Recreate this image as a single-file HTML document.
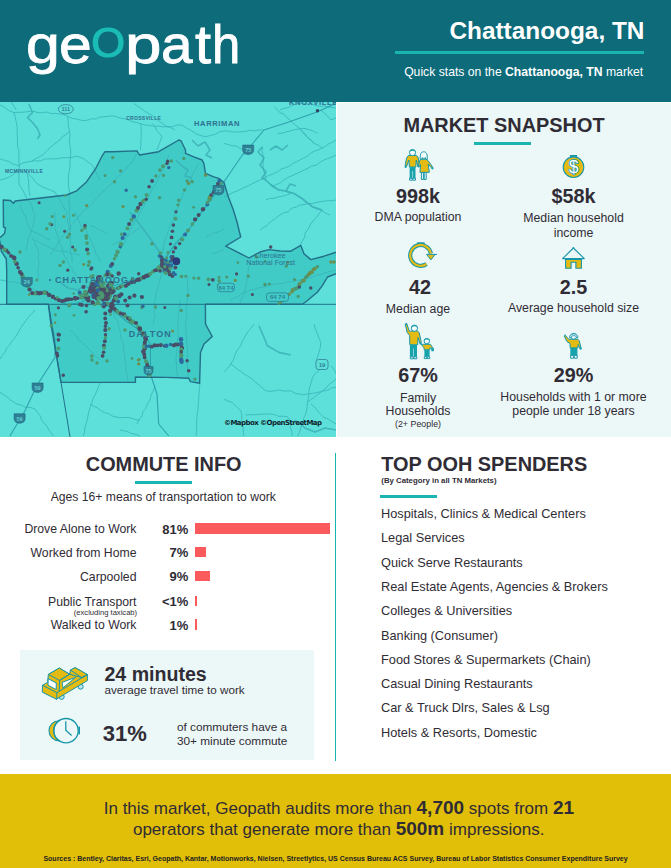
<!DOCTYPE html>
<html><head><meta charset="utf-8">
<style>
*{margin:0;padding:0;box-sizing:border-box}
html,body{width:671px;height:868px;overflow:hidden;background:#fff}
body{position:relative;font-family:"Liberation Sans",Arial,sans-serif;color:#302c35}
.a{position:absolute;white-space:nowrap;line-height:1}
#hdr{position:absolute;left:0;top:0;width:671px;height:102px;background:#0d6b7a}
#map{position:absolute;left:0;top:102px;width:336px;height:335px;overflow:hidden}
#snap{position:absolute;left:337px;top:103px;width:334px;height:334px;background:#ecf7f7}
#box{position:absolute;left:20px;top:650px;width:294px;height:110px;background:#ecf7f7}
#foot{position:absolute;left:0;top:774px;width:671px;height:94px;background:#e1be07}
.ul{position:absolute;height:3px;background:#1ab5b0}
.logo span{position:absolute;top:17.8px;font-size:53px;line-height:1;color:#fff;-webkit-text-stroke:0.8px #fff;transform-origin:0 0}
.logo span.o{font-family:"DejaVu Sans",sans-serif;font-weight:200;font-size:54px;color:#1bbcb5;-webkit-text-stroke:2.2px #1bbcb5}
.bar{position:absolute;left:194.5px;height:10.5px;background:#fb5a5d}
svg{position:absolute;overflow:visible}
</style></head><body>
<div id="hdr"><div class="a logo" style="left:0;top:0;width:250px;height:101px"><span style="left:25.7px;transform:scaleX(1.148)">g</span><span style="left:58.6px;transform:scaleX(1.11)">e</span><span class="o" style="left:88.9px;top:14.2px;transform:scale(1.16,0.93)">o</span><span style="left:125px;transform:scaleX(1.24)">p</span><span style="left:160.5px;transform:scaleX(1.07)">a</span><span style="left:194.6px;transform:scaleX(1.09)">t</span><span style="left:212.1px;transform:scaleX(0.96)">h</span></div><div class="a" style="top:18.6px;font-size:24.4px;font-weight:bold;color:#fff;right:26.5px;">Chattanooga, TN</div>
<div class="ul" style="left:395px;top:51px;width:249px"></div><div class="a" style="top:66.4px;font-size:12.2px;color:#fff;right:27.8px;">Quick stats on the <b>Chattanooga, TN</b> market</div>
</div>
<div id="map"><svg width="336" height="335" viewBox="0 102 336 335" style="left:0;top:0">
<rect x="0" y="100" width="336" height="340" fill="#5ddfda"/>
<polygon points="3.3,200.0 10.5,200.5 13.4,203.2 15.2,201.0 66.7,195.0 76.7,190.8 86.7,181.7 95.8,168.3 101.7,156.7 105.0,151.7 112.0,151.7 137.0,150.9 139.5,155.0 158.7,151.7 178.8,140.0 181.0,140.8 185.5,150.0 185.5,153.4 193.8,156.8 202.1,160.0 203.8,163.4 205.5,173.4 213.8,176.8 218.8,178.4 224.0,182.5 228.0,196.0 233.0,209.0 237.0,222.0 240.7,237.0 225.7,246.2 249.0,258.0 260.0,252.0 269.0,249.6 280.0,251.0 290.8,251.2 300.8,245.4 304.0,253.7 310.8,259.6 324.0,256.2 337.0,252.0 337.0,273.5 327.5,277.0 322.5,285.4 317.5,292.0 307.5,300.5 302.5,304.3 205.4,304.3 205.5,324.0 212.2,336.5 204.0,344.0 200.5,352.4 199.6,383.3 190.5,381.6 188.8,378.3 167.0,377.4 135.4,377.0 135.4,382.4 61.0,382.4 50.9,324.0 48.4,304.3 6.7,304.3 6.7,270.0 6.3,259.0 1.2,251.0 0.5,245.0 -1.0,238.0 1.2,236.7 4.6,233.2 5.5,228.0 3.5,227.0" fill="#40cbc7"/>
<g fill="none" stroke="#38b4b7" stroke-width="0.8" stroke-linejoin="round">
<polyline points="277.4,133.4 281.7,133.3 285.8,132.0 290.0,131.0 294.6,129.8 299.3,128.9 304.0,128.4 308.7,129.5 313.3,131.0 317.5,133.4"/>
<polyline points="300.8,130.0 303.9,133.6 307.0,137.1 310.9,139.9 314.0,143.4 318.3,145.2 322.0,148.0"/>
<polyline points="224.0,143.4 228.0,144.5 231.9,145.7 236.0,146.0 240.2,148.7 245.0,150.0"/>
<polyline points="265.7,200.0 269.7,198.5 274.0,198.4 278.0,197.0 282.4,196.3 286.6,195.0 290.8,193.5"/>
<polyline points="320.8,110.0 324.3,113.1 327.8,116.3 330.8,120.0 336.0,118.0"/>
<polyline points="55.0,212.0 54.6,216.2 55.3,220.3 55.2,224.5 55.0,228.7 56.4,232.9 58.0,237.0 58.6,241.4 61.0,245.2 62.4,249.4 63.4,253.7 65.5,257.3 67.5,260.9 69.3,264.7 71.7,268.2 73.6,271.9 76.0,275.3 78.4,278.7"/>
<polyline points="75.0,212.0 76.7,216.2 78.4,220.3 80.5,224.4 81.8,228.7"/>
<polyline points="31.7,237.0 34.2,241.3 36.1,246.0 38.4,250.4 38.7,254.4 38.1,258.5 39.0,262.5 38.5,266.6 37.7,270.6 38.7,274.7 38.4,278.7"/>
<polyline points="90.0,225.4 94.5,227.0 98.4,229.5 102.8,231.3 106.8,233.7"/>
<polyline points="205.5,237.0 209.3,235.6 212.6,232.9 216.8,232.6 220.5,230.7 224.0,228.7"/>
<polyline points="212.0,253.7 216.1,252.9 220.0,251.1 224.0,250.0"/>
<polyline points="112.0,245.4 116.2,242.6 120.8,240.7 125.0,238.0 128.8,235.5 132.4,232.9 136.1,230.3 140.0,228.0"/>
<polyline points="254.0,324.0 250.6,328.6 247.0,333.0 244.7,337.1 242.3,341.2 240.7,345.7 237.2,350.0 235.0,355.0 233.4,359.8 230.7,364.0 227.6,368.4 224.0,372.4"/>
<polyline points="230.7,364.0 234.1,366.4 237.3,369.1 240.8,371.3 244.0,374.0 248.2,376.4 252.2,379.1 255.7,382.4 259.2,385.0 262.4,388.0 265.7,390.8 270.2,391.3 274.6,390.9 279.0,390.0 284.9,391.1 290.8,390.8 294.6,393.2 299.0,394.0 303.2,394.8 307.5,394.0 312.5,393.4 317.5,392.4 324.0,390.8 328.1,390.1 331.8,387.9 336.0,387.4"/>
<polyline points="314.0,324.0 315.5,329.1 317.5,334.0 319.0,338.3 320.8,342.4 320.3,347.5 319.0,352.4 316.7,359.0 317.7,364.9 319.0,370.7 315.2,373.5 312.5,377.4 311.4,381.9 309.9,386.3 309.0,390.8 308.6,396.7 307.5,402.5 306.9,408.3 305.8,414.0 303.6,418.3 303.2,423.3 300.8,427.5 299.7,432.0 297.5,436.0"/>
<polyline points="224.0,399.0 228.0,401.0 232.3,402.5 236.6,406.6 240.7,410.8 241.9,415.1 241.6,419.6 242.4,424.0 243.1,428.0 243.3,432.0 244.0,436.0"/>
<polyline points="245.7,415.0 249.7,414.7 253.7,414.7 257.7,414.5 261.7,414.1 265.7,414.0 270.1,414.1 274.4,414.5 278.6,416.3 283.1,416.2 287.4,416.7 289.7,420.1 290.8,424.0 290.6,428.1 292.0,432.0 292.0,436.0"/>
<polyline points="307.5,402.5 310.5,399.6 314.2,397.5 317.3,394.7 320.8,392.4 323.8,389.7 326.9,387.1 329.6,384.0 333.0,381.7 336.0,379.0"/>
<polyline points="310.8,404.0 314.5,407.0 317.4,410.8 320.6,414.2 324.0,417.5 328.3,419.1 332.1,421.7 336.0,424.0"/>
<polyline points="330.8,365.7 334.1,369.4 336.0,374.0"/>
<polyline points="0.0,105.0 4.6,107.4 8.9,110.5 13.8,112.5 17.9,112.3 21.9,112.3 26.0,111.9 30.0,111.3 34.1,111.4 38.2,112.7 42.3,112.8 46.5,112.0 50.5,113.5 54.7,113.4 58.8,113.8 63.4,114.5 67.6,116.3 71.6,118.2 75.9,118.9 80.1,120.0 84.0,120.6 88.0,120.1 91.9,118.7 96.1,119.0 99.9,117.1 103.9,116.8 108.0,116.4 112.0,115.8 116.3,116.6 120.3,118.2 124.7,118.8 128.8,120.1 132.8,121.9 137.1,122.6 141.2,124.1 145.4,125.0 149.7,125.5 154.0,126.3 158.4,126.1 162.6,126.8 167.0,126.7 172.1,126.7 176.9,125.1 182.0,125.0 186.3,128.1 191.1,130.4 195.5,133.4 200.4,135.5 205.5,136.7 210.2,135.5 214.9,134.4 219.2,132.0 224.0,131.0 228.2,131.0 232.3,131.8 236.5,132.1 240.7,131.7 245.4,131.6 250.0,130.2 254.7,130.9 259.3,129.9 264.0,130.0"/>
<polyline points="67.6,116.3 68.2,121.3 68.4,126.4 69.5,131.3 70.1,136.0 69.3,140.8 69.9,145.5 70.7,150.2 70.7,155.0 70.0,162.6 70.0,166.9 69.4,171.2 68.3,175.4 68.5,179.7 68.2,184.0 68.9,188.0 69.5,192.0 69.3,196.0 69.0,200.0 69.0,204.0 69.6,208.0 69.4,212.0 70.0,216.0 69.4,220.0 70.1,224.0 70.6,228.0 69.8,232.0 70.3,236.0 70.5,240.0 70.6,244.4 70.6,248.8 70.6,253.3 72.2,257.6 72.0,262.0"/>
<polyline points="13.8,112.5 15.3,117.4 16.3,122.5 17.2,127.5 17.1,132.5 17.5,137.5 17.4,142.0 17.5,146.5 19.1,151.0 18.9,155.5 18.8,160.0 19.4,166.3 18.8,170.7 18.8,175.1 19.1,179.6 18.8,184.0 20.9,187.6 23.4,191.1 25.0,195.0 26.8,198.6 29.6,201.6 31.7,205.0 32.7,210.2 35.0,215.0 33.9,219.0 33.7,223.2 32.3,227.1 31.3,231.1 30.0,235.0 28.1,239.8 27.2,245.0 26.0,250.0"/>
<polyline points="18.8,165.0 22.8,163.1 27.0,162.0 31.3,161.3 35.0,159.0 38.8,157.1 42.6,155.0 46.4,151.4 50.0,147.6 53.2,144.9 56.5,142.4 60.0,140.0 62.6,136.5 66.4,134.3 69.5,131.3"/>
<polyline points="0.0,158.8 4.3,160.2 8.6,161.4 12.5,163.8 20.0,166.3"/>
<polyline points="31.3,161.3 35.8,160.8 40.4,161.1 44.7,159.0 49.3,158.9 53.8,158.8 57.9,158.7 61.9,157.8 65.9,157.6 70.0,157.6 77.6,156.3 84.0,158.8 87.1,161.4 90.4,163.8 93.3,166.7 95.4,171.2 97.7,175.6 100.0,180.0"/>
<polyline points="0.0,180.0 4.4,179.0 8.6,177.4 12.5,175.0 15.8,171.8 20.0,170.0"/>
<polyline points="25.0,171.3 28.7,174.5 32.5,177.6 34.6,181.1 37.5,184.0 41.7,186.4 46.0,188.4 50.6,190.2 55.0,192.0 57.2,196.0 59.9,199.8 62.3,203.6 64.1,207.9 66.7,211.7 67.1,216.4 67.6,221.0 68.9,225.5 70.0,230.0"/>
<polyline points="26.9,172.6 28.2,178.2 28.8,184.0 28.8,188.0 29.2,192.0 30.0,196.0"/>
<polyline points="10.0,100.0 13.1,105.0 16.3,110.0"/>
<polyline points="133.7,103.3 137.2,105.9 140.9,108.1 144.3,110.9 147.9,113.2 151.8,115.2 155.0,118.1 158.5,120.7 162.0,123.3 166.0,126.2 170.7,127.7 175.0,130.0"/>
<polyline points="141.0,123.4 141.0,127.8 141.2,132.3 141.2,136.7 140.8,141.1 140.8,145.6 140.4,150.0"/>
<polyline points="152.0,123.3 155.0,126.3 156.5,130.4 159.5,133.3 162.0,136.7 160.4,141.2 158.6,145.5 157.0,150.0"/>
<polyline points="137.0,153.4 134.8,156.8 132.7,160.4 130.4,163.8 127.6,166.8 125.0,170.0 121.9,173.5 118.2,176.4 115.2,180.0 112.0,183.4 108.3,186.4 105.4,190.2 101.3,192.8 98.3,196.6 95.0,200.0 92.3,203.3 89.4,206.4 85.9,208.9 82.6,211.6 80.0,215.0 77.6,218.2 74.7,221.0 72.6,224.4 69.5,227.1 68.1,231.1 65.0,233.8 62.3,236.7 60.0,240.0 57.7,243.9 55.4,247.7 53.0,251.6 50.0,255.0"/>
<polyline points="168.8,155.0 167.4,159.1 165.6,163.2 163.2,166.9 162.0,171.1 160.0,175.0 158.0,179.0 156.3,183.1 153.7,186.8 151.3,190.6 149.6,194.8 148.1,199.0 145.6,202.8 143.7,206.8 141.1,210.5 139.0,214.5 137.5,218.8 134.2,222.0 132.0,226.0 130.0,230.0 128.2,234.1 126.6,238.3 124.5,242.2 122.0,246.0 120.0,250.0"/>
<polyline points="198.8,163.4 196.6,167.1 194.7,170.9 192.2,174.5 191.4,178.8 189.2,182.5 186.8,186.1 185.0,190.0 183.3,193.6 181.9,197.4 179.9,200.9 178.8,204.8 177.4,208.5 175.4,212.0 174.0,216.0 173.0,220.2 170.7,223.9 169.7,228.1 168.0,232.0 166.4,236.0 165.0,240.0 164.2,244.1 163.1,248.0 162.8,252.2 160.6,255.9 160.0,260.0"/>
<polyline points="274.0,106.7 277.2,109.4 279.9,112.7 284.1,114.1 286.7,117.4 290.0,120.0 292.9,123.0 296.2,125.7 299.5,128.3 302.4,131.3 305.4,134.2 307.8,137.8 311.2,140.3 314.0,143.4"/>
<polyline points="224.0,196.8 228.1,195.1 232.0,193.0 236.0,191.3 240.1,189.5 244.0,187.6 248.1,185.8 252.0,183.8 256.0,181.8 260.0,180.0 263.7,178.3 267.2,176.2 271.0,174.8 274.7,173.1 278.4,171.3 281.7,168.8 285.7,167.7 289.4,166.0 292.7,163.6 296.3,161.7 300.0,160.0 303.6,158.0 307.4,156.4 310.5,153.5 314.0,151.3 318.0,150.0 321.7,148.2 325.4,146.3 328.7,143.9 332.5,142.2 336.0,140.0"/>
<polyline points="272.4,186.8 276.2,184.5 280.5,182.9 283.9,179.8 287.8,177.6 291.9,175.8 295.9,173.8 300.0,172.0 304.0,170.1 308.0,168.3 311.8,165.9 316.3,165.1 319.9,162.3 323.8,160.2 327.8,158.4 332.1,157.0 336.0,155.0"/>
<polyline points="262.4,146.7 262.0,151.3 263.3,155.8 263.4,160.4 263.0,165.0 263.5,170.1 265.2,174.9 265.7,180.0 268.7,183.0 272.4,185.0 275.6,187.6 279.0,190.0 284.1,190.9 288.9,192.8 294.0,193.5 297.7,196.1 301.6,198.6 304.7,202.0 309.0,203.8 312.5,206.8 316.7,209.1 321.6,210.2 325.5,213.1 330.0,215.0"/>
<polyline points="0.0,359.0 2.3,355.5 5.0,352.2 6.5,348.1 9.5,345.1 11.6,341.4 14.6,338.4 16.9,334.9 18.8,331.1 20.9,327.4 23.4,324.0 26.1,320.3 28.9,316.7 32.0,313.4 35.0,310.0"/>
<polyline points="0.0,392.4 3.5,394.5 7.0,396.6 9.8,399.7 13.3,401.8 16.7,404.0 21.3,405.0 25.6,407.4 30.5,407.4 35.0,409.0 37.3,412.4 40.0,415.5 41.4,419.5 43.7,422.9 46.8,425.7 48.5,429.4 50.9,432.8 53.4,436.0"/>
<polyline points="100.0,382.4 98.5,386.7 96.9,390.9 95.0,395.0 92.8,398.9 91.9,403.4 90.0,407.5 88.9,411.5 88.0,415.6 87.3,419.7 86.1,423.8 84.8,427.7 84.6,432.0 83.4,436.0"/>
<polyline points="90.0,404.0 93.5,406.3 97.4,407.8 100.8,410.4 104.4,412.5 108.5,413.7 112.0,416.0 116.0,416.9 119.9,417.8 124.1,417.4 128.1,417.5 132.1,418.3 135.9,419.8 140.0,420.0"/>
<polyline points="137.0,424.0 138.8,419.8 141.9,416.3 142.9,411.7 146.0,408.2 147.5,403.8 150.0,400.0 151.2,394.8 153.6,390.1 155.0,385.0"/>
<polyline points="180.0,300.0 180.0,304.3 179.7,308.6 178.4,312.8 178.5,317.1 178.0,321.4 177.9,325.7 178.0,330.0 178.1,334.3 177.8,338.6 176.6,342.8 176.5,347.1 177.2,351.5 176.3,355.7 176.0,360.0 176.6,364.5 176.6,369.0 177.3,373.5 177.0,378.0"/>
<polyline points="153.7,324.0 153.5,320.0 154.9,316.0 154.0,312.0 155.2,308.0 154.4,304.0 155.0,300.0 156.0,296.0 156.4,291.8 157.9,288.0 158.7,283.9 160.0,280.0 161.6,275.1 162.1,269.9 164.0,265.0"/>
<polyline points="188.0,277.0 187.5,281.6 187.6,286.2 188.1,290.8 187.4,295.4 187.0,300.0 186.9,304.3 186.1,308.6 186.8,312.9 186.9,317.2 185.6,321.4 185.8,325.7 186.0,330.0 186.1,334.0 186.5,338.0 186.9,342.0 187.0,346.0 187.6,350.0 187.8,354.0 187.2,358.0 187.5,362.0 187.4,366.0 187.8,370.0 188.1,374.0 188.0,378.0"/>
<polyline points="200.0,383.0 199.5,387.5 199.1,392.0 198.9,396.5 198.6,401.0 198.2,405.5 198.0,410.0 197.2,414.3 196.8,418.6 196.6,423.0 196.8,427.3 196.5,431.7 196.0,436.0"/>
<polyline points="260.0,230.0 263.3,227.4 267.1,225.6 269.9,222.3 273.2,219.9 276.6,217.4 280.0,215.0 283.8,212.7 288.4,211.8 291.6,208.2 296.1,207.1 300.0,205.0 304.0,204.7 308.0,203.6 312.0,203.5 316.0,202.6 319.9,201.8 323.9,201.2 327.9,200.7 332.0,200.8 336.0,200.0"/>
<polyline points="300.0,245.0 302.3,241.1 304.6,237.3 305.3,232.7 308.2,229.1 310.0,225.0 312.8,221.1 316.2,217.7 319.0,213.8 322.0,210.0"/>
<polyline points="230.0,300.0 233.9,297.8 238.4,296.7 241.6,293.2 246.1,292.2 250.0,290.0 254.1,289.4 258.0,288.0 262.0,287.2 266.1,286.5 270.0,285.0 274.3,284.1 278.6,283.8 282.9,283.3 287.1,281.9 291.5,281.7 295.7,280.6 300.0,280.0 304.0,278.9 308.0,277.9 312.1,276.9 315.9,275.3 320.1,274.7 324.0,273.4 327.9,271.9 332.0,271.2 336.0,270.0"/>
<polyline points="0.0,280.0 4.0,280.4 7.9,281.9 12.0,281.8 16.0,282.6 20.0,283.0 24.0,285.0 28.0,287.0 32.2,288.6 36.2,290.7 40.0,293.0"/>
<polyline points="35.0,240.0 38.8,242.4 43.0,244.0 47.0,246.0 51.0,248.0 55.0,250.0 59.1,251.1 63.4,251.3 67.6,251.9 71.6,253.8 75.8,254.1 80.0,255.0"/>
<polyline points="110.0,300.0 111.3,304.3 112.4,308.7 113.6,313.1 115.1,317.3 117.8,321.2 118.7,325.7 120.0,330.0 120.5,334.3 121.0,338.6 122.8,342.7 123.5,347.0 123.9,351.4 124.6,355.7 125.0,360.0 125.8,364.4 125.7,368.9 126.8,373.2 127.4,377.6 128.0,382.0"/>
<polyline points="70.0,330.0 73.3,332.7 76.1,335.9 78.4,339.6 81.9,342.1 85.0,345.0 88.0,348.0 91.0,351.0 93.6,354.4 96.8,357.2 100.0,360.0"/>
<polyline points="250.0,260.0 249.6,264.3 248.3,268.5 248.1,272.9 247.1,277.1 246.8,281.5 245.8,285.7 245.0,290.0 243.6,294.4 241.8,298.7 240.0,303.0"/>
<polyline points="120.0,430.0 124.1,430.7 128.1,431.9 132.0,433.7 136.1,434.4 140.0,436.0"/>
<polyline points="280.0,110.0 283.9,108.3 288.1,107.6 291.9,105.4 295.9,104.2 300.0,103.0 304.0,103.4 307.9,104.5 312.1,104.0 316.0,105.5 319.9,106.4 324.1,105.9 328.0,106.8 332.0,107.6 336.0,108.0"/>
<polyline points="20.0,205.0 21.6,209.2 23.5,213.3 25.8,217.2 26.7,221.6 28.4,225.8 30.0,230.0 33.9,232.2 38.2,233.7 42.1,235.9 45.9,238.1 50.0,240.0"/>
<polyline points="86.0,230.0 87.5,234.1 89.8,237.9 91.6,241.9 93.1,246.0 95.0,250.0 96.1,254.3 98.8,257.8 100.0,262.0"/>
</g>
<g fill="none" stroke="#3aaeb6" stroke-width="1.6" stroke-linejoin="round" opacity="0.8">
<polyline points="28.8,103.8 32.5,112.5 27.5,117.5 32.5,122.5 37.5,128.8 40.0,135.0 37.5,138.8"/>
<polyline points="192.0,140.0 198.0,146.0 205.0,142.0 210.0,150.0 206.0,155.0 212.0,158.0"/>
<polyline points="262.4,146.7 258.0,152.0 264.0,158.0 260.0,165.0 266.0,172.0 262.0,178.0 265.7,180.0 272.0,186.0 279.0,190.0 286.0,191.0 294.0,193.5 303.0,199.0 312.5,206.8 322.0,210.0"/>
<polyline points="270.0,150.0 276.0,146.0 282.0,150.0 288.0,145.0"/>
<polyline points="286.0,191.0 290.0,184.0 296.0,186.0"/>
<polyline points="130.0,212.0 140.0,225.0 150.0,238.0 158.0,250.0 165.0,262.0 175.0,270.0"/>
<polyline points="60.0,282.0 68.0,288.0 78.0,290.0 85.0,285.0 92.0,292.0"/>
<polyline points="259.0,325.7 264.0,337.4 267.4,345.7 279.0,352.4 290.8,355.0"/>
<polyline points="176.0,160.0 182.0,166.0 188.0,170.0 185.0,176.0 192.0,178.0"/>
<polyline points="295.0,420.0 305.0,428.0 315.0,432.0 325.0,428.0 336.0,430.0"/>
</g>
<g fill="none" stroke="#2ea3ad" stroke-width="1.1" stroke-linejoin="round">
<polyline points="224.0,181.8 242.4,155.0 248.0,149.0 264.0,130.0 287.4,122.5 317.5,111.7 336.0,103.3"/>
<polyline points="224.0,181.8 200.5,213.7 187.1,232.0 175.4,243.7 163.7,260.4 158.7,268.8 145.4,275.4 125.0,283.0 112.0,286.0"/>
<polyline points="96.0,292.0 110.0,308.0 125.0,320.0 142.5,332.5 150.4,344.0 150.4,374.0 157.0,394.0 158.7,424.0 168.8,436.0"/>
<polyline points="96.0,292.0 81.8,302.2 66.8,304.7 55.0,298.8 45.0,290.3 33.4,293.8 28.3,287.0 21.7,275.3 13.3,257.0 1.7,245.3 0.0,243.0"/>
<polyline points="55.0,357.4 36.7,385.8 25.0,410.8 10.0,436.0"/>
<polyline points="48.4,304.3 55.0,340.0 55.0,357.4"/>
</g>
<polygon points="3.3,200.0 10.5,200.5 13.4,203.2 15.2,201.0 66.7,195.0 76.7,190.8 86.7,181.7 95.8,168.3 101.7,156.7 105.0,151.7 112.0,151.7 137.0,150.9 139.5,155.0 158.7,151.7 178.8,140.0 181.0,140.8 185.5,150.0 185.5,153.4 193.8,156.8 202.1,160.0 203.8,163.4 205.5,173.4 213.8,176.8 218.8,178.4 224.0,182.5 228.0,196.0 233.0,209.0 237.0,222.0 240.7,237.0 225.7,246.2 249.0,258.0 260.0,252.0 269.0,249.6 280.0,251.0 290.8,251.2 300.8,245.4 304.0,253.7 310.8,259.6 324.0,256.2 337.0,252.0 337.0,273.5 327.5,277.0 322.5,285.4 317.5,292.0 307.5,300.5 302.5,304.3 205.4,304.3 205.5,324.0 212.2,336.5 204.0,344.0 200.5,352.4 199.6,383.3 190.5,381.6 188.8,378.3 167.0,377.4 135.4,377.0 135.4,382.4 61.0,382.4 50.9,324.0 48.4,304.3 6.7,304.3 6.7,270.0 6.3,259.0 1.2,251.0 0.5,245.0 -1.0,238.0 1.2,236.7 4.6,233.2 5.5,228.0 3.5,227.0" fill="none" stroke="#236f88" stroke-width="1.4" stroke-linejoin="round"/>
<path d="M0,304.3 H336 M48.4,304.3 L61,382.4 L70,437" fill="none" stroke="#236f88" stroke-width="1"/>
<g>
<circle cx="117.8" cy="288.2" r="1.8" fill="#4a4d66"/>
<circle cx="120.3" cy="287.0" r="1.8" fill="#4a4d66"/>
<circle cx="122.1" cy="286.1" r="1.8" fill="#4c9870"/>
<circle cx="125.9" cy="285.8" r="2.1" fill="#4a4d66"/>
<circle cx="128.1" cy="284.0" r="2.0" fill="#4a4d66"/>
<circle cx="128.6" cy="283.7" r="1.8" fill="#4a4d66"/>
<circle cx="131.2" cy="282.3" r="2.1" fill="#4a4d66"/>
<circle cx="134.3" cy="281.8" r="2.1" fill="#4a4d66"/>
<circle cx="137.3" cy="279.9" r="2.2" fill="#4a4d66"/>
<circle cx="139.4" cy="279.4" r="2.2" fill="#4a4d66"/>
<circle cx="141.9" cy="277.9" r="1.9" fill="#4c9870"/>
<circle cx="143.9" cy="277.3" r="2.3" fill="#4a4d66"/>
<circle cx="146.2" cy="275.9" r="2.2" fill="#4a4d66"/>
<circle cx="148.1" cy="275.4" r="2.1" fill="#4a4d66"/>
<circle cx="150.2" cy="273.8" r="2.0" fill="#4c9870"/>
<circle cx="153.0" cy="271.5" r="2.0" fill="#4c9870"/>
<circle cx="155.1" cy="270.3" r="1.9" fill="#4a4d66"/>
<circle cx="156.7" cy="270.0" r="1.9" fill="#4a4d66"/>
<circle cx="158.6" cy="267.7" r="2.3" fill="#4c9870"/>
<circle cx="160.5" cy="266.8" r="2.4" fill="#4c9870"/>
<circle cx="161.8" cy="265.6" r="1.8" fill="#4a4d66"/>
<circle cx="164.5" cy="263.9" r="2.0" fill="#4a4d66"/>
<circle cx="166.5" cy="263.9" r="2.0" fill="#4a4d66"/>
<circle cx="171.2" cy="257.0" r="1.9" fill="#2c6a9e"/>
<circle cx="173.4" cy="251.9" r="1.7" fill="#4a4d66"/>
<circle cx="175.4" cy="247.9" r="1.8" fill="#4a4d66"/>
<circle cx="179.6" cy="243.6" r="1.7" fill="#4a4d66"/>
<circle cx="182.1" cy="239.5" r="2.1" fill="#4c9870"/>
<circle cx="185.1" cy="234.5" r="2.0" fill="#2c6a9e"/>
<circle cx="188.0" cy="230.6" r="2.0" fill="#4c9870"/>
<circle cx="192.4" cy="224.1" r="1.8" fill="#4c9870"/>
<circle cx="195.1" cy="219.4" r="2.1" fill="#4a4d66"/>
<circle cx="198.6" cy="215.0" r="2.0" fill="#4a4d66"/>
<circle cx="203.0" cy="209.3" r="2.2" fill="#4a4d66"/>
<circle cx="207.3" cy="204.6" r="1.9" fill="#2c6a9e"/>
<circle cx="207.4" cy="202.4" r="1.8" fill="#4c9870"/>
<circle cx="209.7" cy="199.2" r="2.3" fill="#4c9870"/>
<circle cx="211.0" cy="195.2" r="1.9" fill="#4a4d66"/>
<circle cx="213.7" cy="192.2" r="2.0" fill="#4a4d66"/>
<circle cx="215.6" cy="187.5" r="2.2" fill="#4a4d66"/>
<circle cx="218.0" cy="183.8" r="2.0" fill="#4a4d66"/>
<circle cx="219.4" cy="180.7" r="2.0" fill="#2c6a9e"/>
<circle cx="105.0" cy="275.5" r="1.7" fill="#4c9870"/>
<circle cx="107.7" cy="271.9" r="2.2" fill="#2c6a9e"/>
<circle cx="110.8" cy="265.9" r="2.0" fill="#2c6a9e"/>
<circle cx="112.2" cy="264.0" r="2.0" fill="#4a4d66"/>
<circle cx="114.4" cy="258.7" r="1.7" fill="#4c9870"/>
<circle cx="116.1" cy="255.5" r="1.9" fill="#4c9870"/>
<circle cx="117.5" cy="251.9" r="2.2" fill="#4c9870"/>
<circle cx="120.3" cy="246.7" r="1.8" fill="#2c6a9e"/>
<circle cx="121.1" cy="244.2" r="2.1" fill="#4c9870"/>
<circle cx="122.6" cy="238.0" r="2.1" fill="#2c6a9e"/>
<circle cx="124.6" cy="234.2" r="2.0" fill="#2c6a9e"/>
<circle cx="127.4" cy="228.4" r="1.9" fill="#4c9870"/>
<circle cx="129.1" cy="224.1" r="2.0" fill="#4a4d66"/>
<circle cx="131.6" cy="219.8" r="2.0" fill="#4c9870"/>
<circle cx="133.8" cy="216.4" r="2.2" fill="#2c6a9e"/>
<circle cx="136.6" cy="210.6" r="2.2" fill="#4c9870"/>
<circle cx="138.1" cy="207.8" r="2.1" fill="#4a4d66"/>
<circle cx="140.5" cy="204.0" r="2.2" fill="#4a4d66"/>
<circle cx="142.9" cy="201.7" r="1.9" fill="#4c9870"/>
<circle cx="143.6" cy="200.3" r="1.8" fill="#4c9870"/>
<circle cx="146.6" cy="195.0" r="2.0" fill="#4c9870"/>
<circle cx="149.1" cy="186.7" r="1.8" fill="#4a4d66"/>
<circle cx="152.1" cy="180.9" r="2.0" fill="#4a4d66"/>
<circle cx="155.9" cy="176.0" r="1.7" fill="#4c9870"/>
<circle cx="159.9" cy="170.1" r="1.8" fill="#4c9870"/>
<circle cx="163.1" cy="166.3" r="2.1" fill="#4c9870"/>
<circle cx="167.7" cy="161.3" r="1.7" fill="#4a4d66"/>
<circle cx="93.1" cy="283.9" r="1.8" fill="#4a4d66"/>
<circle cx="91.3" cy="276.8" r="2.1" fill="#4c9870"/>
<circle cx="91.0" cy="269.1" r="1.7" fill="#4a4d66"/>
<circle cx="89.2" cy="261.9" r="1.9" fill="#4c9870"/>
<circle cx="88.1" cy="253.6" r="1.8" fill="#4c9870"/>
<circle cx="87.1" cy="249.5" r="2.1" fill="#4a4d66"/>
<circle cx="87.0" cy="243.1" r="1.9" fill="#4c9870"/>
<circle cx="86.3" cy="238.4" r="1.6" fill="#4c9870"/>
<circle cx="86.2" cy="236.1" r="1.9" fill="#4c9870"/>
<circle cx="84.9" cy="227.8" r="2.0" fill="#4c9870"/>
<circle cx="93.5" cy="297.0" r="2.1" fill="#4a4d66"/>
<circle cx="88.4" cy="297.4" r="1.9" fill="#4a4d66"/>
<circle cx="85.2" cy="296.9" r="2.1" fill="#4a4d66"/>
<circle cx="81.6" cy="297.4" r="2.2" fill="#4c9870"/>
<circle cx="77.8" cy="298.2" r="1.7" fill="#4a4d66"/>
<circle cx="75.4" cy="298.2" r="2.3" fill="#4a4d66"/>
<circle cx="71.5" cy="299.2" r="1.8" fill="#4a4d66"/>
<circle cx="68.8" cy="299.3" r="2.0" fill="#4a4d66"/>
<circle cx="66.6" cy="299.6" r="2.2" fill="#4a4d66"/>
<circle cx="64.5" cy="300.5" r="1.9" fill="#4a4d66"/>
<circle cx="62.0" cy="301.1" r="2.1" fill="#4a4d66"/>
<circle cx="58.9" cy="300.2" r="2.1" fill="#4a4d66"/>
<circle cx="55.4" cy="298.8" r="1.7" fill="#4a4d66"/>
<circle cx="52.8" cy="296.7" r="2.2" fill="#4a4d66"/>
<circle cx="49.1" cy="294.9" r="2.2" fill="#4a4d66"/>
<circle cx="46.6" cy="292.9" r="1.8" fill="#4a4d66"/>
<circle cx="44.5" cy="292.8" r="2.2" fill="#4c9870"/>
<circle cx="41.1" cy="292.9" r="2.0" fill="#4a4d66"/>
<circle cx="39.5" cy="293.3" r="2.1" fill="#4a4d66"/>
<circle cx="37.3" cy="293.0" r="2.2" fill="#4a4d66"/>
<circle cx="34.9" cy="293.4" r="2.0" fill="#4c9870"/>
<circle cx="32.2" cy="293.1" r="2.1" fill="#4a4d66"/>
<circle cx="29.5" cy="289.5" r="2.1" fill="#4a4d66"/>
<circle cx="28.2" cy="286.5" r="1.7" fill="#4c9870"/>
<circle cx="27.0" cy="284.9" r="1.9" fill="#4c9870"/>
<circle cx="25.2" cy="281.8" r="2.3" fill="#4a4d66"/>
<circle cx="23.5" cy="278.3" r="1.7" fill="#4c9870"/>
<circle cx="22.7" cy="276.8" r="2.3" fill="#4c9870"/>
<circle cx="21.6" cy="274.1" r="2.0" fill="#4a4d66"/>
<circle cx="20.0" cy="272.1" r="2.1" fill="#4a4d66"/>
<circle cx="18.1" cy="267.7" r="1.8" fill="#4a4d66"/>
<circle cx="16.6" cy="263.8" r="2.3" fill="#4a4d66"/>
<circle cx="14.9" cy="261.5" r="1.9" fill="#4c9870"/>
<circle cx="14.3" cy="258.0" r="2.2" fill="#4a4d66"/>
<circle cx="13.4" cy="257.1" r="1.9" fill="#4a4d66"/>
<circle cx="11.0" cy="255.9" r="1.9" fill="#4a4d66"/>
<circle cx="8.6" cy="252.8" r="1.7" fill="#4a4d66"/>
<circle cx="6.4" cy="250.5" r="2.0" fill="#4a4d66"/>
<circle cx="4.6" cy="249.6" r="2.2" fill="#4c9870"/>
<circle cx="1.6" cy="246.9" r="2.1" fill="#4a4d66"/>
<circle cx="111.0" cy="306.3" r="2.2" fill="#4a4d66"/>
<circle cx="111.9" cy="308.2" r="1.9" fill="#4a4d66"/>
<circle cx="114.2" cy="308.6" r="2.0" fill="#4a4d66"/>
<circle cx="116.2" cy="310.3" r="1.9" fill="#4a4d66"/>
<circle cx="117.4" cy="311.7" r="2.1" fill="#4c9870"/>
<circle cx="119.6" cy="312.9" r="1.9" fill="#4c9870"/>
<circle cx="120.9" cy="313.4" r="2.0" fill="#4a4d66"/>
<circle cx="123.9" cy="314.5" r="2.3" fill="#4a4d66"/>
<circle cx="125.3" cy="316.3" r="2.0" fill="#4c9870"/>
<circle cx="127.9" cy="318.2" r="1.9" fill="#4a4d66"/>
<circle cx="130.2" cy="320.2" r="1.8" fill="#4a4d66"/>
<circle cx="132.7" cy="321.9" r="2.4" fill="#4c9870"/>
<circle cx="136.0" cy="323.0" r="2.1" fill="#4a4d66"/>
<circle cx="138.0" cy="326.7" r="1.8" fill="#4c9870"/>
<circle cx="139.6" cy="328.3" r="2.4" fill="#4c9870"/>
<circle cx="139.8" cy="329.0" r="2.4" fill="#4a4d66"/>
<circle cx="142.4" cy="332.3" r="1.8" fill="#4c9870"/>
<circle cx="143.4" cy="333.9" r="2.2" fill="#4a4d66"/>
<circle cx="145.0" cy="335.8" r="2.2" fill="#4c9870"/>
<circle cx="145.2" cy="337.8" r="2.0" fill="#4a4d66"/>
<circle cx="145.7" cy="339.1" r="2.4" fill="#4a4d66"/>
<circle cx="144.9" cy="342.4" r="2.1" fill="#4a4d66"/>
<circle cx="144.5" cy="344.5" r="1.8" fill="#4a4d66"/>
<circle cx="145.1" cy="346.0" r="1.9" fill="#4a4d66"/>
<circle cx="144.7" cy="348.4" r="2.2" fill="#4a4d66"/>
<circle cx="143.4" cy="351.6" r="2.3" fill="#4a4d66"/>
<circle cx="144.3" cy="354.4" r="2.0" fill="#4a4d66"/>
<circle cx="144.7" cy="357.5" r="1.9" fill="#4a4d66"/>
<circle cx="146.0" cy="361.3" r="2.0" fill="#4c9870"/>
<circle cx="147.2" cy="363.1" r="1.8" fill="#4c9870"/>
<circle cx="147.1" cy="365.0" r="1.9" fill="#4a4d66"/>
<circle cx="147.9" cy="367.3" r="2.4" fill="#4a4d66"/>
<circle cx="148.3" cy="370.5" r="1.8" fill="#4c9870"/>
<circle cx="149.2" cy="373.5" r="2.1" fill="#4a4d66"/>
<circle cx="149.2" cy="374.9" r="2.4" fill="#4c9870"/>
<circle cx="144.2" cy="346.6" r="2.2" fill="#4c9870"/>
<circle cx="146.4" cy="346.2" r="1.8" fill="#2c6a9e"/>
<circle cx="148.8" cy="346.3" r="1.7" fill="#2c6a9e"/>
<circle cx="151.9" cy="346.7" r="1.9" fill="#4a4d66"/>
<circle cx="154.6" cy="345.4" r="2.1" fill="#4a4d66"/>
<circle cx="157.6" cy="345.4" r="1.9" fill="#4a4d66"/>
<circle cx="160.8" cy="345.1" r="2.1" fill="#4a4d66"/>
<circle cx="164.5" cy="345.9" r="1.7" fill="#4a4d66"/>
<circle cx="166.3" cy="345.8" r="2.2" fill="#2c6a9e"/>
<circle cx="170.5" cy="344.5" r="1.8" fill="#2c6a9e"/>
<circle cx="173.8" cy="345.3" r="2.1" fill="#4a4d66"/>
<circle cx="175.7" cy="344.5" r="2.0" fill="#4a4d66"/>
<circle cx="178.0" cy="344.4" r="2.0" fill="#4a4d66"/>
<circle cx="180.9" cy="344.3" r="2.3" fill="#4a4d66"/>
<circle cx="181.0" cy="339.4" r="2.3" fill="#2c6a9e"/>
<circle cx="181.1" cy="343.6" r="2.1" fill="#2c6a9e"/>
<circle cx="181.9" cy="348.0" r="2.2" fill="#4a4d66"/>
<circle cx="181.3" cy="349.7" r="2.1" fill="#4c9870"/>
<circle cx="181.2" cy="352.0" r="1.9" fill="#4a4d66"/>
<circle cx="181.2" cy="355.7" r="2.3" fill="#4c9870"/>
<circle cx="181.2" cy="359.8" r="2.3" fill="#2c6a9e"/>
<circle cx="181.6" cy="361.8" r="2.2" fill="#2c6a9e"/>
<circle cx="105.3" cy="313.5" r="2.0" fill="#4a4d66"/>
<circle cx="105.2" cy="318.5" r="1.9" fill="#4a4d66"/>
<circle cx="106.0" cy="322.9" r="2.0" fill="#4a4d66"/>
<circle cx="105.4" cy="326.3" r="1.7" fill="#4a4d66"/>
<circle cx="105.3" cy="330.1" r="2.1" fill="#4a4d66"/>
<circle cx="105.5" cy="334.8" r="1.7" fill="#4a4d66"/>
<circle cx="105.5" cy="337.5" r="1.7" fill="#4c9870"/>
<circle cx="104.9" cy="341.3" r="2.0" fill="#4a4d66"/>
<circle cx="103.9" cy="345.4" r="1.9" fill="#4a4d66"/>
<circle cx="104.2" cy="347.8" r="1.9" fill="#4c9870"/>
<circle cx="103.6" cy="352.2" r="1.8" fill="#4a4d66"/>
<circle cx="102.6" cy="355.9" r="1.9" fill="#4a4d66"/>
<circle cx="181.5" cy="276.5" r="1.8" fill="#4c9870"/>
<circle cx="185.8" cy="276.3" r="1.5" fill="#4c9870"/>
<circle cx="193.9" cy="278.0" r="1.6" fill="#4c9870"/>
<circle cx="198.6" cy="278.2" r="1.7" fill="#4c9870"/>
<circle cx="208.4" cy="279.3" r="1.9" fill="#4c9870"/>
<circle cx="212.8" cy="279.8" r="1.9" fill="#4a4d66"/>
<circle cx="219.1" cy="280.9" r="1.8" fill="#4c9870"/>
<circle cx="166.2" cy="263.2" r="2.0" fill="#4c9870"/>
<circle cx="166.7" cy="257.8" r="1.6" fill="#4c9870"/>
<circle cx="168.0" cy="252.5" r="1.6" fill="#4c9870"/>
<circle cx="170.4" cy="244.0" r="1.6" fill="#4a4d66"/>
<circle cx="171.6" cy="237.4" r="1.9" fill="#4a4d66"/>
<circle cx="172.4" cy="231.3" r="1.8" fill="#4a4d66"/>
<circle cx="173.4" cy="225.1" r="1.8" fill="#4a4d66"/>
<circle cx="175.5" cy="218.8" r="2.0" fill="#4c9870"/>
<circle cx="176.0" cy="211.8" r="1.6" fill="#4a4d66"/>
<circle cx="177.9" cy="204.8" r="1.6" fill="#4c9870"/>
<circle cx="278.7" cy="303.3" r="1.6" fill="#4c9870"/>
<circle cx="280.7" cy="302.0" r="1.6" fill="#6a8f4e"/>
<circle cx="282.3" cy="300.5" r="1.7" fill="#4c9870"/>
<circle cx="284.7" cy="298.6" r="2.0" fill="#6a8f4e"/>
<circle cx="286.5" cy="296.5" r="1.7" fill="#6a8f4e"/>
<circle cx="289.1" cy="294.3" r="1.8" fill="#6a8f4e"/>
<circle cx="292.0" cy="291.8" r="1.8" fill="#6a8f4e"/>
<circle cx="292.7" cy="290.1" r="2.0" fill="#6a8f4e"/>
<circle cx="295.1" cy="288.8" r="2.1" fill="#4c9870"/>
<circle cx="297.2" cy="287.9" r="1.9" fill="#4c9870"/>
<circle cx="299.1" cy="284.8" r="2.0" fill="#4c9870"/>
<circle cx="300.0" cy="283.6" r="1.8" fill="#6a8f4e"/>
<circle cx="302.2" cy="281.1" r="1.8" fill="#4c9870"/>
<circle cx="303.8" cy="280.4" r="2.0" fill="#6a8f4e"/>
<circle cx="305.8" cy="277.4" r="1.9" fill="#4c9870"/>
<circle cx="307.1" cy="276.1" r="1.6" fill="#4c9870"/>
<circle cx="308.6" cy="274.5" r="1.9" fill="#6a8f4e"/>
<circle cx="310.2" cy="272.8" r="2.0" fill="#6a8f4e"/>
<circle cx="311.7" cy="272.3" r="2.0" fill="#6a8f4e"/>
<circle cx="313.3" cy="269.5" r="1.8" fill="#6a8f4e"/>
<circle cx="314.7" cy="268.8" r="2.0" fill="#6a8f4e"/>
<circle cx="317.4" cy="266.7" r="1.8" fill="#4c9870"/>
<circle cx="159.4" cy="256.0" r="1.8" fill="#2c6a9e"/>
<circle cx="161.5" cy="257.0" r="1.8" fill="#4a4d66"/>
<circle cx="162.0" cy="259.2" r="2.2" fill="#2c6a9e"/>
<circle cx="162.5" cy="260.6" r="2.3" fill="#4a4d66"/>
<circle cx="164.2" cy="263.4" r="2.2" fill="#2c6a9e"/>
<circle cx="165.7" cy="266.3" r="1.8" fill="#2c6a9e"/>
<circle cx="167.1" cy="269.2" r="1.9" fill="#4a4d66"/>
<circle cx="169.2" cy="272.1" r="1.9" fill="#4a4d66"/>
<circle cx="170.1" cy="274.3" r="1.9" fill="#4c9870"/>
<circle cx="172.4" cy="276.2" r="1.8" fill="#4a4d66"/>
<circle cx="58.5" cy="334.6" r="2.0" fill="#4a4d66"/>
<circle cx="58.4" cy="339.9" r="1.8" fill="#4a4d66"/>
<circle cx="58.3" cy="348.5" r="1.9" fill="#4c9870"/>
<circle cx="56.9" cy="353.3" r="1.9" fill="#4a4d66"/>
<circle cx="102.9" cy="296.0" r="1.9" fill="#4a4d66"/>
<circle cx="105.7" cy="293.9" r="2.1" fill="#4a4d66"/>
<circle cx="112.9" cy="305.3" r="1.8" fill="#4a4d66"/>
<circle cx="101.0" cy="291.6" r="1.8" fill="#4c9870"/>
<circle cx="125.2" cy="300.5" r="2.0" fill="#4a4d66"/>
<circle cx="105.2" cy="288.8" r="2.1" fill="#4a4d66"/>
<circle cx="93.5" cy="284.1" r="2.3" fill="#4c9870"/>
<circle cx="114.2" cy="300.0" r="1.9" fill="#4a4d66"/>
<circle cx="129.6" cy="297.5" r="2.1" fill="#4a4d66"/>
<circle cx="106.2" cy="288.0" r="2.1" fill="#4c9870"/>
<circle cx="86.1" cy="295.0" r="1.9" fill="#4c9870"/>
<circle cx="94.5" cy="304.2" r="1.9" fill="#4c9870"/>
<circle cx="99.7" cy="295.6" r="2.0" fill="#4a4d66"/>
<circle cx="101.2" cy="294.6" r="2.1" fill="#2c6a9e"/>
<circle cx="103.5" cy="292.2" r="1.8" fill="#4c9870"/>
<circle cx="99.7" cy="293.3" r="2.0" fill="#4a4d66"/>
<circle cx="99.4" cy="287.6" r="2.2" fill="#4a4d66"/>
<circle cx="100.0" cy="292.8" r="1.9" fill="#4a4d66"/>
<circle cx="108.8" cy="293.5" r="1.8" fill="#4a4d66"/>
<circle cx="80.2" cy="294.3" r="2.1" fill="#4c9870"/>
<circle cx="110.1" cy="283.0" r="2.1" fill="#4a4d66"/>
<circle cx="98.7" cy="292.3" r="1.9" fill="#4a4d66"/>
<circle cx="103.1" cy="296.7" r="2.3" fill="#4a4d66"/>
<circle cx="103.6" cy="283.5" r="2.2" fill="#4c9870"/>
<circle cx="100.6" cy="290.7" r="1.8" fill="#4a4d66"/>
<circle cx="118.6" cy="288.2" r="1.8" fill="#4c9870"/>
<circle cx="108.9" cy="289.6" r="2.0" fill="#4a4d66"/>
<circle cx="100.6" cy="293.2" r="2.0" fill="#4a4d66"/>
<circle cx="103.2" cy="292.8" r="2.1" fill="#2c6a9e"/>
<circle cx="96.4" cy="284.3" r="2.1" fill="#2c6a9e"/>
<circle cx="99.9" cy="295.5" r="2.0" fill="#4a4d66"/>
<circle cx="95.4" cy="292.0" r="1.9" fill="#4a4d66"/>
<circle cx="99.6" cy="294.2" r="2.0" fill="#4a4d66"/>
<circle cx="91.0" cy="284.3" r="1.9" fill="#4c9870"/>
<circle cx="104.4" cy="297.7" r="2.1" fill="#4a4d66"/>
<circle cx="98.7" cy="280.4" r="2.2" fill="#4a4d66"/>
<circle cx="97.4" cy="291.2" r="1.9" fill="#4a4d66"/>
<circle cx="109.7" cy="292.0" r="1.9" fill="#4a4d66"/>
<circle cx="100.6" cy="292.1" r="2.2" fill="#4a4d66"/>
<circle cx="101.2" cy="288.7" r="1.9" fill="#4c9870"/>
<circle cx="109.2" cy="297.4" r="2.0" fill="#4c9870"/>
<circle cx="107.8" cy="293.8" r="2.2" fill="#4a4d66"/>
<circle cx="95.4" cy="281.6" r="1.8" fill="#4c9870"/>
<circle cx="102.0" cy="293.5" r="2.0" fill="#4c9870"/>
<circle cx="101.3" cy="285.5" r="2.1" fill="#2c6a9e"/>
<circle cx="97.3" cy="289.3" r="1.9" fill="#4a4d66"/>
<circle cx="99.1" cy="282.4" r="2.1" fill="#4c9870"/>
<circle cx="104.1" cy="304.0" r="2.1" fill="#4a4d66"/>
<circle cx="95.0" cy="294.9" r="2.2" fill="#4a4d66"/>
<circle cx="102.8" cy="305.2" r="2.2" fill="#4c9870"/>
<circle cx="102.0" cy="293.5" r="1.8" fill="#4c9870"/>
<circle cx="110.9" cy="286.2" r="2.1" fill="#2c6a9e"/>
<circle cx="109.3" cy="291.2" r="1.8" fill="#4a4d66"/>
<circle cx="110.8" cy="283.1" r="1.8" fill="#4a4d66"/>
<circle cx="89.9" cy="291.3" r="2.1" fill="#4a4d66"/>
<circle cx="118.1" cy="301.4" r="2.0" fill="#2c6a9e"/>
<circle cx="102.7" cy="295.0" r="2.2" fill="#4a4d66"/>
<circle cx="101.6" cy="293.5" r="2.2" fill="#4c9870"/>
<circle cx="93.7" cy="295.0" r="2.2" fill="#2c6a9e"/>
<circle cx="102.4" cy="293.7" r="2.0" fill="#2c6a9e"/>
<circle cx="103.9" cy="294.0" r="1.8" fill="#4a4d66"/>
<circle cx="113.6" cy="288.9" r="2.1" fill="#4c9870"/>
<circle cx="101.5" cy="294.0" r="2.0" fill="#4c9870"/>
<circle cx="111.2" cy="291.7" r="2.3" fill="#4a4d66"/>
<circle cx="109.6" cy="292.2" r="1.8" fill="#4a4d66"/>
<circle cx="102.6" cy="292.3" r="2.0" fill="#4a4d66"/>
<circle cx="97.2" cy="292.2" r="2.1" fill="#4a4d66"/>
<circle cx="118.7" cy="273.5" r="2.2" fill="#4a4d66"/>
<circle cx="97.4" cy="294.1" r="2.2" fill="#4a4d66"/>
<circle cx="85.9" cy="295.6" r="2.2" fill="#4a4d66"/>
<circle cx="101.2" cy="298.4" r="2.1" fill="#4c9870"/>
<circle cx="94.8" cy="294.1" r="2.2" fill="#4a4d66"/>
<circle cx="101.9" cy="293.7" r="2.0" fill="#4c9870"/>
<circle cx="93.8" cy="288.2" r="2.1" fill="#4a4d66"/>
<circle cx="86.5" cy="305.6" r="1.8" fill="#4a4d66"/>
<circle cx="91.5" cy="290.5" r="2.2" fill="#4a4d66"/>
<circle cx="107.9" cy="298.3" r="2.1" fill="#4a4d66"/>
<circle cx="106.2" cy="304.3" r="2.1" fill="#4a4d66"/>
<circle cx="102.0" cy="297.5" r="1.9" fill="#4a4d66"/>
<circle cx="97.7" cy="294.4" r="1.9" fill="#4a4d66"/>
<circle cx="103.7" cy="292.7" r="2.1" fill="#4c9870"/>
<circle cx="103.5" cy="288.3" r="2.3" fill="#4c9870"/>
<circle cx="94.9" cy="292.0" r="2.1" fill="#4c9870"/>
<circle cx="93.6" cy="292.4" r="2.2" fill="#4c9870"/>
<circle cx="99.6" cy="290.6" r="1.9" fill="#4c9870"/>
<circle cx="104.9" cy="295.8" r="2.1" fill="#4c9870"/>
<circle cx="84.7" cy="294.6" r="2.0" fill="#4a4d66"/>
<circle cx="90.6" cy="291.6" r="2.2" fill="#4a4d66"/>
<circle cx="106.8" cy="298.5" r="2.1" fill="#4c9870"/>
<circle cx="112.1" cy="282.9" r="2.0" fill="#4a4d66"/>
<circle cx="105.8" cy="293.5" r="2.1" fill="#4a4d66"/>
<circle cx="109.5" cy="294.4" r="1.8" fill="#2c6a9e"/>
<circle cx="99.9" cy="277.2" r="2.1" fill="#4a4d66"/>
<circle cx="101.8" cy="293.5" r="1.8" fill="#4a4d66"/>
<circle cx="100.3" cy="287.8" r="2.1" fill="#4a4d66"/>
<circle cx="97.3" cy="298.4" r="2.1" fill="#4a4d66"/>
<circle cx="102.5" cy="291.2" r="1.9" fill="#4c9870"/>
<circle cx="115.2" cy="296.5" r="1.9" fill="#4a4d66"/>
<circle cx="108.2" cy="285.8" r="2.2" fill="#4a4d66"/>
<circle cx="96.9" cy="298.5" r="2.1" fill="#4a4d66"/>
<circle cx="103.5" cy="289.8" r="1.9" fill="#4a4d66"/>
<circle cx="112.1" cy="292.3" r="2.2" fill="#4a4d66"/>
<circle cx="106.7" cy="294.3" r="2.1" fill="#2c6a9e"/>
<circle cx="79.7" cy="304.5" r="1.8" fill="#4a4d66"/>
<circle cx="108.0" cy="303.6" r="1.8" fill="#4c9870"/>
<circle cx="93.2" cy="293.5" r="2.1" fill="#2c6a9e"/>
<circle cx="91.2" cy="287.0" r="2.2" fill="#2c6a9e"/>
<circle cx="114.9" cy="298.5" r="2.1" fill="#4a4d66"/>
<circle cx="101.5" cy="293.6" r="2.2" fill="#4a4d66"/>
<circle cx="96.5" cy="295.5" r="2.3" fill="#4a4d66"/>
<circle cx="92.5" cy="284.1" r="2.0" fill="#4a4d66"/>
<circle cx="97.4" cy="281.6" r="2.0" fill="#4a4d66"/>
<circle cx="96.7" cy="295.4" r="2.1" fill="#4c9870"/>
<circle cx="113.2" cy="289.0" r="2.1" fill="#4c9870"/>
<circle cx="119.5" cy="296.4" r="2.1" fill="#2c6a9e"/>
<circle cx="88.2" cy="299.8" r="1.8" fill="#4a4d66"/>
<circle cx="81.8" cy="305.1" r="2.0" fill="#4a4d66"/>
<circle cx="87.2" cy="299.6" r="1.8" fill="#4a4d66"/>
<circle cx="87.2" cy="295.2" r="1.8" fill="#4c9870"/>
<circle cx="97.3" cy="286.5" r="2.3" fill="#4a4d66"/>
<circle cx="102.9" cy="292.8" r="1.8" fill="#4c9870"/>
<circle cx="100.7" cy="289.1" r="2.0" fill="#4a4d66"/>
<circle cx="101.6" cy="285.9" r="2.2" fill="#4c9870"/>
<circle cx="105.7" cy="290.3" r="2.2" fill="#4c9870"/>
<circle cx="98.0" cy="303.0" r="2.3" fill="#4c9870"/>
<circle cx="101.9" cy="297.2" r="2.2" fill="#4a4d66"/>
<circle cx="121.4" cy="294.4" r="2.1" fill="#4a4d66"/>
<circle cx="100.6" cy="294.3" r="2.2" fill="#4a4d66"/>
<circle cx="107.0" cy="299.3" r="2.0" fill="#4a4d66"/>
<circle cx="113.3" cy="291.0" r="2.0" fill="#4c9870"/>
<circle cx="95.4" cy="284.7" r="2.3" fill="#4a4d66"/>
<circle cx="111.8" cy="304.4" r="2.0" fill="#4a4d66"/>
<circle cx="96.5" cy="296.7" r="2.2" fill="#4a4d66"/>
<circle cx="86.1" cy="311.7" r="1.8" fill="#4a4d66"/>
<circle cx="109.2" cy="292.7" r="2.2" fill="#4a4d66"/>
<circle cx="98.3" cy="277.5" r="2.2" fill="#4a4d66"/>
<circle cx="97.9" cy="291.5" r="2.0" fill="#4a4d66"/>
<circle cx="96.7" cy="285.4" r="2.2" fill="#2c6a9e"/>
<circle cx="103.9" cy="306.5" r="1.9" fill="#4a4d66"/>
<circle cx="96.5" cy="295.4" r="2.3" fill="#2c6a9e"/>
<circle cx="102.2" cy="292.0" r="2.2" fill="#4a4d66"/>
<circle cx="109.3" cy="288.1" r="1.9" fill="#2c6a9e"/>
<circle cx="106.9" cy="293.0" r="2.3" fill="#4a4d66"/>
<circle cx="92.7" cy="302.4" r="2.1" fill="#4a4d66"/>
<circle cx="84.6" cy="294.6" r="2.3" fill="#4c9870"/>
<circle cx="103.6" cy="304.2" r="1.8" fill="#2c6a9e"/>
<circle cx="95.7" cy="296.7" r="2.2" fill="#2c6a9e"/>
<circle cx="109.7" cy="274.3" r="2.1" fill="#4c9870"/>
<circle cx="99.1" cy="293.1" r="2.1" fill="#4c9870"/>
<circle cx="105.1" cy="292.0" r="2.1" fill="#4a4d66"/>
<circle cx="94.7" cy="294.2" r="1.8" fill="#4a4d66"/>
<circle cx="103.6" cy="290.6" r="2.0" fill="#4a4d66"/>
<circle cx="89.7" cy="290.0" r="1.9" fill="#4a4d66"/>
<circle cx="110.3" cy="290.6" r="2.0" fill="#4c9870"/>
<circle cx="114.5" cy="300.1" r="2.0" fill="#4a4d66"/>
<circle cx="119.3" cy="295.7" r="2.1" fill="#4a4d66"/>
<circle cx="141.9" cy="297.0" r="2.1" fill="#4a4d66"/>
<circle cx="94.6" cy="290.5" r="1.9" fill="#4a4d66"/>
<circle cx="107.3" cy="274.4" r="2.1" fill="#4a4d66"/>
<circle cx="90.6" cy="287.3" r="1.9" fill="#4a4d66"/>
<circle cx="104.5" cy="293.9" r="1.8" fill="#4a4d66"/>
<circle cx="109.9" cy="294.7" r="2.2" fill="#4a4d66"/>
<circle cx="75.0" cy="298.3" r="2.2" fill="#4a4d66"/>
<circle cx="95.8" cy="288.5" r="2.2" fill="#4a4d66"/>
<circle cx="105.5" cy="295.0" r="2.3" fill="#4a4d66"/>
<circle cx="97.7" cy="288.3" r="1.9" fill="#4c9870"/>
<circle cx="106.0" cy="289.8" r="1.9" fill="#4c9870"/>
<circle cx="109.0" cy="294.6" r="2.3" fill="#4a4d66"/>
<circle cx="104.8" cy="294.2" r="1.9" fill="#4a4d66"/>
<circle cx="101.0" cy="293.4" r="2.1" fill="#4c9870"/>
<circle cx="109.1" cy="293.1" r="1.8" fill="#4a4d66"/>
<circle cx="102.8" cy="295.1" r="1.9" fill="#4c9870"/>
<circle cx="101.7" cy="293.4" r="2.0" fill="#4a4d66"/>
<circle cx="97.1" cy="296.2" r="2.0" fill="#4a4d66"/>
<circle cx="102.3" cy="293.8" r="2.2" fill="#4c9870"/>
<circle cx="94.7" cy="294.5" r="2.2" fill="#4a4d66"/>
<circle cx="103.5" cy="295.0" r="2.2" fill="#2c6a9e"/>
<circle cx="105.6" cy="291.5" r="2.2" fill="#4a4d66"/>
<circle cx="113.5" cy="291.4" r="2.1" fill="#4a4d66"/>
<circle cx="96.3" cy="294.7" r="2.0" fill="#4a4d66"/>
<circle cx="103.0" cy="299.9" r="1.9" fill="#4a4d66"/>
<circle cx="110.0" cy="295.5" r="2.0" fill="#4c9870"/>
<circle cx="107.5" cy="290.5" r="2.0" fill="#4c9870"/>
<circle cx="103.6" cy="295.1" r="2.1" fill="#4a4d66"/>
<circle cx="101.0" cy="295.7" r="2.0" fill="#4a4d66"/>
<circle cx="110.1" cy="289.7" r="1.9" fill="#4a4d66"/>
<circle cx="85.9" cy="292.6" r="2.1" fill="#4a4d66"/>
<circle cx="110.9" cy="283.5" r="1.9" fill="#4a4d66"/>
<circle cx="110.2" cy="310.8" r="2.3" fill="#4a4d66"/>
<circle cx="127.5" cy="305.5" r="2.0" fill="#4a4d66"/>
<circle cx="111.7" cy="304.0" r="2.3" fill="#4a4d66"/>
<circle cx="134.4" cy="295.7" r="2.1" fill="#4a4d66"/>
<circle cx="79.7" cy="292.5" r="1.9" fill="#2c6a9e"/>
<circle cx="96.7" cy="297.8" r="2.3" fill="#4a4d66"/>
<circle cx="103.3" cy="297.8" r="2.1" fill="#4a4d66"/>
<circle cx="102.4" cy="295.6" r="1.9" fill="#4a4d66"/>
<circle cx="115.9" cy="298.5" r="2.2" fill="#4c9870"/>
<circle cx="106.4" cy="299.2" r="2.1" fill="#4a4d66"/>
<circle cx="100.2" cy="289.2" r="1.8" fill="#4a4d66"/>
<circle cx="96.1" cy="283.2" r="2.0" fill="#2c6a9e"/>
<circle cx="97.9" cy="278.3" r="1.9" fill="#4a4d66"/>
<circle cx="96.6" cy="289.2" r="1.8" fill="#4c9870"/>
<circle cx="101.5" cy="293.7" r="1.9" fill="#4c9870"/>
<circle cx="104.8" cy="297.9" r="2.3" fill="#4a4d66"/>
<circle cx="107.1" cy="294.3" r="1.8" fill="#4a4d66"/>
<circle cx="85.3" cy="292.1" r="2.3" fill="#4c9870"/>
<circle cx="107.7" cy="295.3" r="2.2" fill="#4a4d66"/>
<circle cx="98.6" cy="298.3" r="2.2" fill="#4c9870"/>
<circle cx="94.0" cy="290.7" r="2.3" fill="#4a4d66"/>
<circle cx="95.3" cy="293.6" r="1.8" fill="#2c6a9e"/>
<circle cx="104.2" cy="289.3" r="1.9" fill="#4a4d66"/>
<circle cx="105.1" cy="298.1" r="2.0" fill="#4a4d66"/>
<circle cx="99.6" cy="292.9" r="2.2" fill="#4c9870"/>
<circle cx="101.9" cy="294.0" r="2.1" fill="#4a4d66"/>
<circle cx="83.5" cy="287.1" r="2.0" fill="#4a4d66"/>
<circle cx="104.5" cy="294.6" r="1.8" fill="#4a4d66"/>
<circle cx="113.4" cy="300.9" r="1.9" fill="#4a4d66"/>
<circle cx="102.5" cy="293.8" r="2.1" fill="#4a4d66"/>
<circle cx="102.4" cy="295.4" r="2.2" fill="#4c9870"/>
<circle cx="112.2" cy="304.9" r="1.8" fill="#4a4d66"/>
<circle cx="97.8" cy="290.4" r="2.1" fill="#2c6a9e"/>
<circle cx="88.5" cy="300.4" r="2.2" fill="#4a4d66"/>
<circle cx="101.6" cy="293.9" r="2.2" fill="#4c9870"/>
<circle cx="90.8" cy="290.3" r="2.2" fill="#4a4d66"/>
<circle cx="110.9" cy="285.1" r="2.3" fill="#4c9870"/>
<circle cx="102.0" cy="297.1" r="2.1" fill="#4c9870"/>
<circle cx="108.7" cy="293.8" r="2.0" fill="#4a4d66"/>
<circle cx="96.5" cy="293.4" r="1.9" fill="#4a4d66"/>
<circle cx="69.2" cy="305.4" r="2.1" fill="#4c9870"/>
<circle cx="112.2" cy="276.0" r="1.8" fill="#4a4d66"/>
<circle cx="170.3" cy="261.3" r="1.9" fill="#2c6a9e"/>
<circle cx="172.9" cy="256.7" r="1.7" fill="#4a4d66"/>
<circle cx="168.3" cy="264.7" r="1.7" fill="#4a4d66"/>
<circle cx="164.9" cy="269.0" r="1.6" fill="#4a4d66"/>
<circle cx="175.3" cy="274.4" r="1.6" fill="#2c6a9e"/>
<circle cx="169.4" cy="274.6" r="1.7" fill="#4a4d66"/>
<circle cx="162.1" cy="261.9" r="1.9" fill="#4a4d66"/>
<circle cx="164.4" cy="270.7" r="2.0" fill="#2c6a9e"/>
<circle cx="169.8" cy="267.4" r="1.7" fill="#4a4d66"/>
<circle cx="171.4" cy="265.2" r="1.9" fill="#2c6a9e"/>
<circle cx="167.5" cy="262.2" r="1.8" fill="#4c9870"/>
<circle cx="163.0" cy="266.9" r="1.6" fill="#4a4d66"/>
<circle cx="165.6" cy="273.2" r="1.8" fill="#4c9870"/>
<circle cx="165.2" cy="261.4" r="1.7" fill="#4c9870"/>
<circle cx="172.4" cy="259.2" r="1.9" fill="#4a4d66"/>
<circle cx="165.6" cy="269.2" r="2.0" fill="#4a4d66"/>
<circle cx="165.7" cy="271.3" r="2.1" fill="#4c9870"/>
<circle cx="170.8" cy="274.7" r="1.8" fill="#4a4d66"/>
<circle cx="165.6" cy="269.5" r="2.0" fill="#2c6a9e"/>
<circle cx="168.3" cy="270.8" r="1.7" fill="#4a4d66"/>
<circle cx="170.1" cy="268.6" r="1.8" fill="#4c9870"/>
<circle cx="161.7" cy="264.2" r="1.8" fill="#4a4d66"/>
<circle cx="175.4" cy="267.4" r="2.0" fill="#4a4d66"/>
<circle cx="164.5" cy="268.4" r="1.8" fill="#4a4d66"/>
<circle cx="167.2" cy="265.2" r="1.7" fill="#2c6a9e"/>
<circle cx="166.3" cy="267.1" r="1.9" fill="#4a4d66"/>
<circle cx="160.1" cy="270.9" r="1.8" fill="#4a4d66"/>
<circle cx="164.8" cy="266.7" r="1.8" fill="#4c9870"/>
<circle cx="166.0" cy="260.6" r="1.8" fill="#2c6a9e"/>
<circle cx="173.5" cy="272.8" r="1.7" fill="#2c6a9e"/>
<circle cx="139.4" cy="359.4" r="1.3" fill="#4c9870"/>
<circle cx="91.8" cy="356.1" r="1.8" fill="#4c9870"/>
<circle cx="236.6" cy="273.9" r="1.6" fill="#4a4d66"/>
<circle cx="164.8" cy="307.6" r="1.5" fill="#4a4d66"/>
<circle cx="39.1" cy="202.7" r="1.5" fill="#4a4d66"/>
<circle cx="132.3" cy="279.1" r="1.4" fill="#6a8f4e"/>
<circle cx="72.7" cy="246.9" r="1.5" fill="#4a4d66"/>
<circle cx="194.9" cy="379.1" r="1.6" fill="#4c9870"/>
<circle cx="121.6" cy="234.3" r="1.7" fill="#4c9870"/>
<circle cx="163.5" cy="175.4" r="1.6" fill="#4c9870"/>
<circle cx="63.8" cy="216.7" r="1.4" fill="#6a8f4e"/>
<circle cx="36.8" cy="279.9" r="1.5" fill="#4c9870"/>
<circle cx="298.2" cy="296.4" r="1.6" fill="#4c9870"/>
<circle cx="219.0" cy="277.2" r="1.5" fill="#4c9870"/>
<circle cx="235.3" cy="280.4" r="1.6" fill="#6a8f4e"/>
<circle cx="188.5" cy="183.4" r="1.7" fill="#6a8f4e"/>
<circle cx="67.8" cy="270.2" r="1.6" fill="#4a4d66"/>
<circle cx="110.4" cy="314.6" r="1.4" fill="#4c9870"/>
<circle cx="29.2" cy="294.6" r="1.3" fill="#6a8f4e"/>
<circle cx="73.7" cy="293.5" r="1.3" fill="#4c9870"/>
<circle cx="269.4" cy="284.0" r="1.5" fill="#4c9870"/>
<circle cx="193.6" cy="207.3" r="1.4" fill="#4c9870"/>
<circle cx="184.4" cy="189.9" r="1.7" fill="#4c9870"/>
<circle cx="188.7" cy="370.8" r="1.8" fill="#4a4d66"/>
<circle cx="209.0" cy="284.5" r="1.5" fill="#4a4d66"/>
<circle cx="265.1" cy="261.4" r="1.3" fill="#4c9870"/>
<circle cx="67.6" cy="237.2" r="1.8" fill="#4c9870"/>
<circle cx="101.4" cy="279.2" r="1.5" fill="#4c9870"/>
<circle cx="138.2" cy="360.0" r="1.4" fill="#6a8f4e"/>
<circle cx="73.5" cy="215.2" r="1.5" fill="#4c9870"/>
<circle cx="172.6" cy="331.1" r="1.5" fill="#6a8f4e"/>
<circle cx="64.6" cy="231.2" r="1.5" fill="#4a4d66"/>
<circle cx="286.3" cy="266.1" r="1.7" fill="#4c9870"/>
<circle cx="299.4" cy="287.1" r="1.6" fill="#4a4d66"/>
<circle cx="123.0" cy="206.6" r="1.6" fill="#6a8f4e"/>
<circle cx="55.1" cy="322.7" r="1.3" fill="#6a8f4e"/>
<circle cx="221.1" cy="183.4" r="1.5" fill="#4c9870"/>
<circle cx="205.6" cy="175.1" r="1.8" fill="#6a8f4e"/>
<circle cx="74.0" cy="315.3" r="1.4" fill="#4c9870"/>
<circle cx="55.3" cy="314.8" r="1.5" fill="#4c9870"/>
<circle cx="256.4" cy="256.8" r="1.8" fill="#4c9870"/>
<circle cx="69.4" cy="234.3" r="1.7" fill="#4c9870"/>
<circle cx="132.1" cy="358.4" r="1.4" fill="#4c9870"/>
<circle cx="65.4" cy="195.6" r="1.4" fill="#4c9870"/>
<circle cx="226.7" cy="277.0" r="1.6" fill="#4c9870"/>
<circle cx="83.7" cy="264.5" r="1.4" fill="#6a8f4e"/>
<circle cx="141.8" cy="307.4" r="1.8" fill="#4c9870"/>
<circle cx="51.3" cy="325.7" r="1.8" fill="#4c9870"/>
<circle cx="265.0" cy="284.6" r="1.8" fill="#4c9870"/>
<circle cx="109.2" cy="328.7" r="1.7" fill="#4c9870"/>
<circle cx="130.2" cy="321.9" r="1.4" fill="#4c9870"/>
<circle cx="138.7" cy="363.9" r="1.7" fill="#6a8f4e"/>
<circle cx="252.4" cy="294.5" r="1.6" fill="#4a4d66"/>
<circle cx="209.4" cy="197.4" r="1.7" fill="#6a8f4e"/>
<circle cx="237.9" cy="262.6" r="1.3" fill="#4c9870"/>
<circle cx="93.1" cy="275.7" r="1.6" fill="#4c9870"/>
<circle cx="120.2" cy="244.7" r="1.6" fill="#4c9870"/>
<circle cx="58.4" cy="307.8" r="1.6" fill="#4a4d66"/>
<circle cx="86.6" cy="205.6" r="1.6" fill="#6a8f4e"/>
<circle cx="57.3" cy="297.4" r="1.4" fill="#4c9870"/>
<circle cx="218.2" cy="285.1" r="1.5" fill="#4c9870"/>
<circle cx="248.3" cy="276.1" r="1.6" fill="#4c9870"/>
<circle cx="63.3" cy="375.2" r="1.7" fill="#4a4d66"/>
<circle cx="52.1" cy="216.5" r="1.5" fill="#4c9870"/>
<circle cx="105.1" cy="175.4" r="1.5" fill="#4c9870"/>
<circle cx="51.6" cy="224.6" r="1.6" fill="#4a4d66"/>
<circle cx="101.1" cy="278.2" r="1.3" fill="#4c9870"/>
<circle cx="294.5" cy="279.6" r="1.6" fill="#4c9870"/>
<circle cx="287.9" cy="262.3" r="1.5" fill="#6a8f4e"/>
<circle cx="120.6" cy="170.9" r="1.6" fill="#4c9870"/>
<circle cx="167.0" cy="163.4" r="1.7" fill="#4a4d66"/>
<circle cx="168.8" cy="167.6" r="1.7" fill="#2c6a9e"/>
<circle cx="171.3" cy="161.0" r="1.7" fill="#4c9870"/>
<circle cx="187.1" cy="181.0" r="1.7" fill="#4c9870"/>
<circle cx="192.1" cy="181.8" r="1.7" fill="#4c9870"/>
<circle cx="183.8" cy="158.4" r="1.7" fill="#4c9870"/>
<circle cx="178.8" cy="200.2" r="1.7" fill="#4c9870"/>
<circle cx="159.6" cy="197.7" r="1.7" fill="#4c9870"/>
<circle cx="146.2" cy="199.3" r="1.7" fill="#4a4d66"/>
<circle cx="126.2" cy="190.2" r="1.7" fill="#2c6a9e"/>
<circle cx="135.4" cy="196.8" r="1.7" fill="#4c9870"/>
<circle cx="114.5" cy="181.8" r="1.7" fill="#4c9870"/>
<circle cx="112.8" cy="157.6" r="1.7" fill="#4c9870"/>
<circle cx="50.0" cy="223.7" r="1.7" fill="#4c9870"/>
<circle cx="46.7" cy="228.7" r="1.7" fill="#4c9870"/>
<circle cx="20.0" cy="252.0" r="1.7" fill="#4c9870"/>
<circle cx="85.0" cy="225.4" r="1.7" fill="#4a4d66"/>
<circle cx="81.8" cy="230.4" r="1.7" fill="#4c9870"/>
<circle cx="63.4" cy="262.0" r="1.7" fill="#4c9870"/>
<circle cx="60.0" cy="265.4" r="1.7" fill="#4c9870"/>
<circle cx="88.5" cy="265.4" r="1.7" fill="#4c9870"/>
<circle cx="91.8" cy="268.0" r="1.7" fill="#4a4d66"/>
<circle cx="152.0" cy="243.7" r="1.7" fill="#4c9870"/>
<circle cx="160.4" cy="252.9" r="1.7" fill="#4c9870"/>
<circle cx="138.7" cy="273.7" r="1.7" fill="#4a4d66"/>
<circle cx="188.0" cy="295.5" r="1.7" fill="#4c9870"/>
<circle cx="181.3" cy="310.5" r="1.7" fill="#4c9870"/>
<circle cx="155.4" cy="307.0" r="1.7" fill="#4c9870"/>
<circle cx="142.9" cy="306.3" r="1.7" fill="#2c6a9e"/>
<circle cx="59.3" cy="334.9" r="1.7" fill="#4a4d66"/>
<circle cx="57.6" cy="355.7" r="1.7" fill="#4a4d66"/>
<circle cx="92.0" cy="360.0" r="1.7" fill="#4c9870"/>
<circle cx="97.0" cy="363.0" r="1.7" fill="#4c9870"/>
<circle cx="107.0" cy="361.0" r="1.7" fill="#4c9870"/>
<circle cx="187.1" cy="360.7" r="1.7" fill="#4a4d66"/>
<circle cx="310.8" cy="288.0" r="1.7" fill="#4a4d66"/>
<circle cx="270.7" cy="247.0" r="1.7" fill="#4a4d66"/>
<circle cx="317.5" cy="110.8" r="1.7" fill="#4a4d66"/>
<circle cx="331.0" cy="262.0" r="1.7" fill="#6a8f4e"/>
<circle cx="334.0" cy="262.0" r="1.7" fill="#6a8f4e"/>
<circle cx="75.0" cy="250.0" r="1.7" fill="#4c9870"/>
<circle cx="130.0" cy="318.0" r="1.7" fill="#4c9870"/>
<circle cx="125.0" cy="330.0" r="1.7" fill="#4c9870"/>
</g>
<circle cx="176.3" cy="261.2" r="3.9" fill="#2b3a78"/>
<g font-family="Liberation Sans, sans-serif">
<path d="M242.7,145.1 h11 v5.0 q0,4.0 -5.5,4.5 q-5.5,-0.5 -5.5,-4.5 z" fill="#2f7f95" stroke="#1f6a82" stroke-width="0.6"/><text x="248.2" y="151.8" font-size="5.5" font-weight="bold" text-anchor="middle" fill="#5fd0d0">75</text>
<path d="M213.0,185.5 h11 v5.0 q0,4.0 -5.5,4.5 q-5.5,-0.5 -5.5,-4.5 z" fill="#2f7f95" stroke="#1f6a82" stroke-width="0.6"/><text x="218.5" y="192.2" font-size="5.5" font-weight="bold" text-anchor="middle" fill="#5fd0d0">75</text>
<path d="M21.3,277.5 h11 v5.0 q0,4.0 -5.5,4.5 q-5.5,-0.5 -5.5,-4.5 z" fill="#2f7f95" stroke="#1f6a82" stroke-width="0.6"/><text x="26.8" y="284.2" font-size="5.5" font-weight="bold" text-anchor="middle" fill="#5fd0d0">24</text>
<path d="M32.1,383.0 h11 v5.0 q0,4.0 -5.5,4.5 q-5.5,-0.5 -5.5,-4.5 z" fill="#2f7f95" stroke="#1f6a82" stroke-width="0.6"/><text x="37.6" y="389.7" font-size="5.5" font-weight="bold" text-anchor="middle" fill="#5fd0d0">59</text>
<path d="M14.1,413.8 h11 v5.0 q0,4.0 -5.5,4.5 q-5.5,-0.5 -5.5,-4.5 z" fill="#2f7f95" stroke="#1f6a82" stroke-width="0.6"/><text x="19.6" y="420.5" font-size="5.5" font-weight="bold" text-anchor="middle" fill="#5fd0d0">59</text>
<path d="M144.0,366.5 h9 v4.4 q0,3.6 -4.5,4.0 q-4.5,-0.4 -4.5,-4.0 z" fill="#2f7f95" stroke="#1f6a82" stroke-width="0.6"/><text x="148.5" y="372.7" font-size="5.5" font-weight="bold" text-anchor="middle" fill="#5fd0d0">75</text>
<rect x="266.5" y="292.9" width="22" height="8.5" rx="3" fill="#40cbc7" stroke="#2f8096" stroke-width="0.8"/><text x="277.5" y="299.4" font-size="6" font-weight="bold" text-anchor="middle" fill="#2f7f95">64 74</text>
<rect x="217.5" y="283.2" width="17" height="8.5" rx="3" fill="#40cbc7" stroke="#2f8096" stroke-width="0.8"/><text x="226.0" y="289.7" font-size="6" font-weight="bold" text-anchor="middle" fill="#2f7f95">64 74</text>
<rect x="316" y="359.5" width="12" height="10" rx="2.5" fill="#5ddfda" stroke="#2f8096" stroke-width="0.8"/><text x="322" y="366.8" font-size="6" font-weight="bold" text-anchor="middle" fill="#2f7f95">19</text>
<ellipse cx="65.8" cy="109.2" rx="7.5" ry="4.6" fill="#5ddfda" stroke="#2f8096" stroke-width="0.8"/><text x="65.8" y="111.3" font-size="5.5" font-weight="bold" text-anchor="middle" fill="#2f7f95">111</text>
<text x="55" y="283" font-size="9" font-weight="bold" letter-spacing="1.1" fill="#2d7190">CHATTANOOGA</text>
<circle cx="50" cy="280" r="1.1" fill="#2d7190"/>
<text x="128.7" y="337.4" font-size="9" font-weight="bold" letter-spacing="1.1" fill="#2d7190">DALTON</text>
<text x="194" y="125.6" font-size="7.6" font-weight="bold" letter-spacing="0.6" fill="#2d7190">HARRIMAN</text>
<text x="126.2" y="119.5" font-size="5" font-weight="bold" letter-spacing="0.3" fill="#2d7190">CROSSVILLE</text>
<text x="5" y="172.5" font-size="5" font-weight="bold" letter-spacing="0.3" fill="#2d7190">MCMINNVILLE</text>
<text x="270" y="258" font-size="7.2" text-anchor="middle" fill="#2d7190">Cherokee</text>
<text x="270.7" y="264.6" font-size="7.2" text-anchor="middle" fill="#2d7190">National Forest</text>
<text x="289" y="104.6" font-size="7.6" font-weight="bold" letter-spacing="0.6" fill="#2d7190">KNOXVILLE</text>
</g>
<circle cx="317.5" cy="110.8" r="1.5" fill="#2a4a66"/>
<text x="224" y="425.4" font-family="DejaVu Sans, sans-serif" font-weight="bold" font-size="7" letter-spacing="-0.55" fill="#0e1e2c">©Mapbox ©OpenStreetMap</text>
</svg></div>
<div id="snap"></div>
<div class="a" style="top:115.5px;font-size:19.9px;font-weight:bold;left:354.0px;width:300px;text-align:center;">MARKET SNAPSHOT</div>
<div class="ul" style="left:474px;top:142px;width:57px"></div>
<svg width="671" height="868" style="left:0;top:0" viewBox="0 0 671 868">
<defs><style>.y{fill:#e3bb12}.k{stroke:#1796aa;stroke-width:1;stroke-linejoin:round}.tf{fill:#17a3ab}.wf{fill:#f4fbfb}</style></defs>
<!-- couple icon -->
<g transform="translate(398,145)">
 <path class="y k" d="M10.4,10.5 L18.6,10.5 L20.3,13 L21.2,20.2 L19.7,20.8 L18.3,15 L17.8,22 L11.4,22 L10.9,15 L8.8,21 L7.1,20.4 L8.6,13 Z"/>
 <rect class="tf" x="11.6" y="22" width="5.9" height="11.2"/>
 <path d="M14.55,26 V33" stroke="#bfe6e8" stroke-width="0.7"/>
 <path class="wf k" d="M11.6,33.2 h2.7 v2 h-2.7z M14.8,33.2 h2.7 v2 h-2.7z" stroke-width="0.8"/>
 <circle class="wf k" cx="14.5" cy="7.6" r="3.1"/>
 <path class="tf" d="M11.2,7.4 C11,3.4 18,3.4 17.8,7.4 L17,6.3 C15.5,5.6 13.5,5.6 12,6.3 Z"/>
 <circle class="tf" cx="7.7" cy="21.7" r="1.2"/><circle class="tf" cx="20.5" cy="21.3" r="1.2"/>
 <path class="wf k" d="M23.4,27.3 h2 v7.2 h-2z M26.2,27.3 h2 v7.2 h-2z" stroke-width="0.8"/>
 <path class="y k" d="M23.2,14.2 L28.2,14.2 L30,15.6 L34.8,22.3 L33.8,23.2 L30.2,19 L31.3,27.3 L21.9,27.3 L22.6,19.5 L21.2,21.6 L20.3,21 L21.8,15.6 Z"/>
 <path class="wf k" d="M22.3,14.8 C21.8,9 23,6.8 25.7,6.8 C28.4,6.8 29.6,9 29.2,14.8 L27.6,14.2 L27.6,12.6 C26.5,13.6 25,13.6 24,12.6 L24,14.2 Z" stroke-width="0.9"/>
 <circle class="tf" cx="34.4" cy="23.4" r="1.1"/>
</g>
<!-- coin -->
<rect x="569.9" y="155" width="7.2" height="1.9" fill="#1796aa"/>
<circle cx="573.5" cy="167.2" r="10.3" fill="#e3bb12" stroke="#1796aa" stroke-width="1.1"/>
<text x="573.6" y="173.2" text-anchor="middle" font-family="'Liberation Sans', sans-serif" font-size="17.5" fill="#fff" stroke="#1796aa" stroke-width="1.6" paint-order="stroke fill" stroke-linejoin="round">$</text>
<!-- circular arrow -->
<rect x="416.9" y="242.3" width="7.7" height="1.6" fill="#1796aa"/>
<path d="M426.5,264 A10.4,10.4 0 1 1 430.85,253.5" fill="none" stroke="#1796aa" stroke-width="4.2"/>
<path d="M426.5,264 A10.4,10.4 0 1 1 430.85,253.5" fill="none" stroke="#e3bb12" stroke-width="2.2"/>
<path d="M426.6,254.4 L435,254.4 L430.9,259.9 Z" fill="#e3bb12" stroke="#1796aa" stroke-width="1" stroke-linejoin="round"/>
<path d="M434.6,254.4 H437" stroke="#1796aa" stroke-width="1"/>
<!-- house -->
<path d="M562.6,258.6 L573.4,248 L584.3,258.6 Z" fill="none" stroke="#1796aa" stroke-width="1.1" stroke-linejoin="round"/>
<circle cx="573.4" cy="247.9" r="0.9" fill="#1796aa"/>
<path d="M565.6,259.4 H581.4 V268.2 H575.9 V262.3 H571.1 V268.2 H565.6 Z" fill="#e3bb12" stroke="#1796aa" stroke-width="1.1"/>
<!-- family (adult + child) -->
<g transform="translate(400,318)">
 <path class="y k" d="M9.3,13.2 L17.3,12.9 L19.2,14.5 L21.3,24.4 L19.9,25 L18.1,19.5 L17.6,26.8 L9.8,26.8 L9.6,17.5 L7.2,14.4 L5.2,6.2 L6.8,5.6 Z"/>
 <path class="tf" d="M5.2,5.6 L6.6,4.8 L7,7 L5.6,7.2 Z"/>
 <rect class="tf" x="9.9" y="26.8" width="7.1" height="12"/>
 <path d="M13.45,30.5 V38.8" stroke="#bfe6e8" stroke-width="0.7"/>
 <path class="wf k" d="M10.3,38.8 h3 v2 h-3z M13.8,38.8 h3 v2 h-3z" stroke-width="0.8"/>
 <circle class="wf k" cx="14.4" cy="10.2" r="3.1"/>
 <path class="tf" d="M11.1,10 C10.9,6 17.8,6 17.6,10 L16.9,8.8 C15.4,8.1 13.4,8.1 11.9,8.8 Z"/>
 <circle class="tf" cx="20.6" cy="25.4" r="1.2"/>
 <path class="y k" d="M23.6,26.3 L30.4,26.3 L31.8,28.2 L32.6,30.8 L31.5,31 L30.2,29.6 L29.8,31.8 L24.2,31.8 L24,29.8 L22.4,27.9 L21.2,26.4 Z"/>
 <rect class="tf" x="31.3" y="29.8" width="2.6" height="3.4" rx="0.5"/>
 <rect class="tf" x="24.4" y="31.8" width="5.2" height="6.9"/>
 <path class="wf k" d="M24.3,38.7 h2.4 v1.9 h-2.4z M27.3,38.7 h2.4 v1.9 h-2.4z" stroke-width="0.8"/>
 <circle class="wf k" cx="26.8" cy="23.1" r="2.7"/>
 <path class="tf" d="M23.8,23.4 C23.4,19.6 30.2,19.6 29.8,23.4 L29.2,22 C28,21.2 25.6,21.2 24.4,22 Z"/>
</g>
<!-- child -->
<g transform="translate(556,328)">
 <path class="y k" d="M13.6,11.2 L21.8,11.2 L23.2,12.8 L25,19.5 L23.6,20 L22.2,16.5 L21.8,19.9 L14.2,19.9 L14,15.5 L11,13.6 L8.3,8.4 L9.6,7.6 L12.6,11.2 Z"/>
 <path class="tf" d="M8.2,8.6 L8.4,6.4 L10,6.8 L9.6,8.2 Z"/>
 <circle class="tf" cx="24.6" cy="20.6" r="1.2"/>
 <rect class="tf" x="14.3" y="19.9" width="7.1" height="7.5"/>
 <path class="wf k" d="M14.6,27.4 h3 v2.8 h-3z M18.2,27.4 h3 v2.8 h-3z" stroke-width="0.8"/>
 <circle class="wf k" cx="17.7" cy="8.3" r="2.9"/>
 <path class="wf k" d="M13.6,9.6 C13.1,4.6 22.3,4.6 21.8,9.6 L20.9,9.8 C20.6,7 14.8,7 14.5,9.8 Z" stroke-width="0.9"/>
</g>
</svg>
<div class="a" style="top:186.7px;font-size:19.8px;font-weight:bold;left:268.0px;width:300px;text-align:center;">998k</div>
<div class="a" style="top:211.1px;font-size:12.3px;left:268.0px;width:300px;text-align:center;">DMA population</div>
<div class="a" style="top:186.9px;font-size:19.8px;font-weight:bold;left:423.5px;width:300px;text-align:center;">$58k</div>
<div class="a" style="top:212.2px;font-size:12.3px;left:423.5px;width:300px;text-align:center;">Median household</div>
<div class="a" style="top:226.6px;font-size:12.3px;left:423.5px;width:300px;text-align:center;">income</div>
<div class="a" style="top:278.0px;font-size:19.8px;font-weight:bold;left:270.0px;width:300px;text-align:center;">42</div>
<div class="a" style="top:303.1px;font-size:12.3px;left:268.0px;width:300px;text-align:center;">Median age</div>
<div class="a" style="top:277.7px;font-size:19.8px;font-weight:bold;left:423.5px;width:300px;text-align:center;">2.5</div>
<div class="a" style="top:302.3px;font-size:12.3px;left:423.5px;width:300px;text-align:center;">Average household size</div>
<div class="a" style="top:366.2px;font-size:19.8px;font-weight:bold;left:268.0px;width:300px;text-align:center;">67%</div>
<div class="a" style="top:391.5px;font-size:12.3px;left:268.0px;width:300px;text-align:center;">Family</div>
<div class="a" style="top:405.0px;font-size:12.3px;left:268.0px;width:300px;text-align:center;">Households</div>
<div class="a" style="top:419.9px;font-size:8.9px;left:268.0px;width:300px;text-align:center;">(2+ People)</div>
<div class="a" style="top:366.1px;font-size:19.8px;font-weight:bold;left:423.5px;width:300px;text-align:center;">29%</div>
<div class="a" style="top:391.4px;font-size:12.3px;left:423.5px;width:300px;text-align:center;">Households with 1 or more</div>
<div class="a" style="top:404.9px;font-size:12.3px;left:423.5px;width:300px;text-align:center;">people under 18 years</div>
<div class="a" style="top:454.6px;font-size:19.9px;font-weight:bold;left:13.7px;width:300px;text-align:center;">COMMUTE INFO</div>
<div class="ul" style="left:135px;top:481px;width:57px"></div>
<div class="a" style="top:490.5px;font-size:12.15px;left:13.3px;width:300px;text-align:center;">Ages 16+ means of transportation to work</div>
<div class="a" style="top:523.1px;font-size:12.25px;right:534.5px;">Drove Alone to Work</div>
<div class="a" style="top:522.5px;font-size:13px;font-weight:bold;right:482.7px;">81%</div>
<div class="bar" style="top:523.1px;width:135px"></div>
<div class="a" style="top:546.6px;font-size:12.25px;right:534.5px;">Worked from Home</div>
<div class="a" style="top:546.0px;font-size:13px;font-weight:bold;right:482.7px;">7%</div>
<div class="bar" style="top:546.6px;width:11.4px"></div>
<div class="a" style="top:570.7px;font-size:12.25px;right:534.5px;">Carpooled</div>
<div class="a" style="top:570.1px;font-size:13px;font-weight:bold;right:482.7px;">9%</div>
<div class="bar" style="top:570.7px;width:15px"></div>
<div class="a" style="top:595.6px;font-size:12.25px;right:534.5px;">Public Transport</div>
<div class="a" style="top:595.0px;font-size:13px;font-weight:bold;right:482.7px;">&lt;1%</div>
<div class="bar" style="top:595.6px;width:2px"></div>
<div class="a" style="top:619.4px;font-size:12.25px;right:534.5px;">Walked to Work</div>
<div class="a" style="top:618.8px;font-size:13px;font-weight:bold;right:482.7px;">1%</div>
<div class="bar" style="top:619.4px;width:2px"></div>
<div class="a" style="top:609.2px;font-size:7.6px;right:533.9px;">(excluding taxicab)</div>
<div style="position:absolute;left:335px;top:453px;width:1.3px;height:308px;background:#17b3af"></div>
<div id="box"></div>
<svg width="671" height="868" style="left:0;top:0" viewBox="0 0 671 868">
<!-- car (isometric) local origin 38,660 -->
<g transform="translate(38,660)" stroke="#1796aa" stroke-width="1" stroke-linejoin="round">
 <circle cx="23.6" cy="36.8" r="2.6" fill="#bfe3e6"/>
 <circle cx="42.6" cy="26.6" r="2.6" fill="#bfe3e6"/>
 <path d="M4.4,25.3 L9.6,22.4 L10.4,14.4 L21.3,8 L31.6,14.2 L32.4,10.1 L37.1,7.6 L49.4,14.6 L49.4,20.6 L18.7,38.9 L18.7,39.4 L4.4,32.2 Z" fill="#e3bb12"/>
 <path d="M10.4,14.4 L21.3,8 L31.6,14.2 L21.6,20.4 Z" fill="#e3bb12"/>
 <path d="M32.4,10.1 L37.1,7.6 L49.4,14.6 L43.8,17.6 Z" fill="#e3bb12"/>
 <path d="M21.6,20.4 L31.6,14.2 L43.8,17.6 L49.4,14.6" fill="none"/>
 <path d="M4.4,25.3 L18.9,32.6 L18.7,39.4" fill="none"/>
 <path d="M18.9,32.6 L49.4,14.6" fill="none"/>
 <path d="M10.2,18.6 L18.3,23 L18.2,29.6 L10,25.3 Z" fill="#fff"/>
 <path d="M24,22.4 L37.6,17.3 L25,27.8 Z" fill="#fff"/>
 <path d="M21.6,20.4 L21.2,31.2" fill="none"/>
</g>
<!-- clock -->
<g>
 <path d="M59,720.8 A10,10 0 0 0 59,740.8 A12.2,12.2 0 0 1 59,720.8 Z" fill="#e3bb12" stroke="#1796aa" stroke-width="1.1"/>
 <circle cx="66" cy="730.7" r="12.2" fill="none" stroke="#1796aa" stroke-width="1.3"/>
 <rect x="78.4" y="726.6" width="1.6" height="7.8" fill="#1796aa"/>
 <path d="M65.8,721.2 V730.3 L71.6,735.6" fill="none" stroke="#1796aa" stroke-width="1.3"/>
</g>
</svg>
<div class="a" style="top:664.7px;font-size:19.6px;font-weight:bold;left:104.4px;">24 minutes</div>
<div class="a" style="top:684.0px;font-size:11.7px;left:104.4px;">average travel time to work</div>
<div class="a" style="top:723.0px;font-size:22px;font-weight:bold;left:102.7px;">31%</div>
<div class="a" style="top:722.4px;font-size:11.8px;left:176.9px;">of commuters have a</div>
<div class="a" style="top:736.0px;font-size:11.8px;left:176.9px;">30+ minute commute</div>
<div class="a" style="top:454.6px;font-size:19.9px;font-weight:bold;left:381.3px;">TOP OOH SPENDERS</div>
<div class="a" style="top:477.1px;font-size:7.8px;font-weight:bold;left:381.3px;">(By Category in all TN Markets)</div>
<div class="ul" style="left:380.4px;top:495px;width:57px"></div>
<div class="a" style="top:508.0px;font-size:12.75px;left:381.0px;">Hospitals, Clinics &amp; Medical Centers</div>
<div class="a" style="top:532.3px;font-size:12.75px;left:381.0px;">Legal Services</div>
<div class="a" style="top:556.6px;font-size:12.75px;left:381.0px;">Quick Serve Restaurants</div>
<div class="a" style="top:580.9px;font-size:12.75px;left:381.0px;">Real Estate Agents, Agencies &amp; Brokers</div>
<div class="a" style="top:605.2px;font-size:12.75px;left:381.0px;">Colleges &amp; Universities</div>
<div class="a" style="top:629.5px;font-size:12.75px;left:381.0px;">Banking (Consumer)</div>
<div class="a" style="top:653.8px;font-size:12.75px;left:381.0px;">Food Stores &amp; Supermarkets (Chain)</div>
<div class="a" style="top:678.1px;font-size:12.75px;left:381.0px;">Casual Dining Restaurants</div>
<div class="a" style="top:702.4px;font-size:12.75px;left:381.0px;">Car &amp; Truck Dlrs, Sales &amp; Lsg</div>
<div class="a" style="top:726.7px;font-size:12.75px;left:381.0px;">Hotels &amp; Resorts, Domestic</div>
<div id="foot"></div>
<div class="a" style="top:798.1px;font-size:17px;left:38.9px;width:600px;text-align:center;">In this market, Geopath audits more than <b style="font-size:19px">4,700</b> spots from <b style="font-size:19px">21</b></div>
<div class="a" style="top:819.4px;font-size:17px;left:38.7px;width:600px;text-align:center;">operators that generate more than <b style="font-size:19px">500m</b> impressions.</div>
<div class="a" style="top:854.9px;font-size:7px;font-weight:bold;color:#222;left:5.5px;width:660px;text-align:center;">Sources : Bentley, Claritas, Esri, Geopath, Kantar, Motionworks, Nielsen, Streetlytics, US Census Bureau ACS Survey, Bureau of Labor Statistics Consumer Expenditure Survey</div>
</body></html>
